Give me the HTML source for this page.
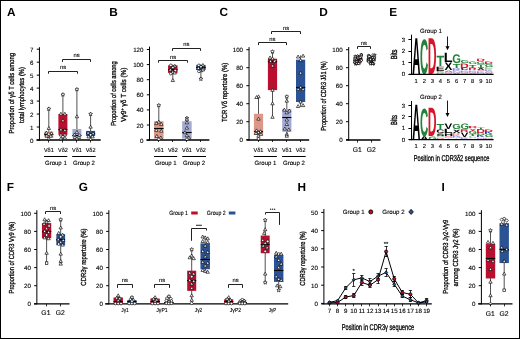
<!DOCTYPE html><html><head><meta charset="utf-8"><style>html,body{margin:0;padding:0;background:#fff;}svg{display:block;will-change:transform;text-rendering:geometricPrecision;}</style></head><body><svg width="520" height="339" viewBox="0 0 520 339" font-family='"Liberation Sans", sans-serif'>
<rect x="0" y="0" width="520" height="339" fill="#fff" stroke="none" stroke-width="0"/>
<text x="6.9" y="15.8" text-anchor="start" font-size="11.8" font-weight="bold" fill="#000">A</text>
<line x1="36.5" y1="140" x2="100.7" y2="140" stroke="#000" stroke-width="1.3"/>
<line x1="39.45" y1="47.2" x2="39.45" y2="140.6" stroke="#000" stroke-width="1"/>
<line x1="36.75" y1="140" x2="39.45" y2="140" stroke="#000" stroke-width="1"/>
<text x="33.45" y="142.5" text-anchor="end" font-size="6.2" font-weight="normal" fill="#000" stroke="#000" stroke-width="0.12">0</text>
<line x1="36.75" y1="127.03" x2="39.45" y2="127.03" stroke="#000" stroke-width="1"/>
<text x="33.45" y="129.53" text-anchor="end" font-size="6.2" font-weight="normal" fill="#000" stroke="#000" stroke-width="0.12">1</text>
<line x1="36.75" y1="114.06" x2="39.45" y2="114.06" stroke="#000" stroke-width="1"/>
<text x="33.45" y="116.56" text-anchor="end" font-size="6.2" font-weight="normal" fill="#000" stroke="#000" stroke-width="0.12">2</text>
<line x1="36.75" y1="101.09" x2="39.45" y2="101.09" stroke="#000" stroke-width="1"/>
<text x="33.45" y="103.59" text-anchor="end" font-size="6.2" font-weight="normal" fill="#000" stroke="#000" stroke-width="0.12">3</text>
<line x1="36.75" y1="88.12" x2="39.45" y2="88.12" stroke="#000" stroke-width="1"/>
<text x="33.45" y="90.62" text-anchor="end" font-size="6.2" font-weight="normal" fill="#000" stroke="#000" stroke-width="0.12">4</text>
<line x1="36.75" y1="75.15" x2="39.45" y2="75.15" stroke="#000" stroke-width="1"/>
<text x="33.45" y="77.65" text-anchor="end" font-size="6.2" font-weight="normal" fill="#000" stroke="#000" stroke-width="0.12">5</text>
<line x1="36.75" y1="62.18" x2="39.45" y2="62.18" stroke="#000" stroke-width="1"/>
<text x="33.45" y="64.68" text-anchor="end" font-size="6.2" font-weight="normal" fill="#000" stroke="#000" stroke-width="0.12">6</text>
<line x1="36.75" y1="49.21" x2="39.45" y2="49.21" stroke="#000" stroke-width="1"/>
<text x="33.45" y="51.71" text-anchor="end" font-size="6.2" font-weight="normal" fill="#000" stroke="#000" stroke-width="0.12">7</text>
<line x1="48.8" y1="108.87" x2="48.8" y2="140" stroke="#333" stroke-width="0.85"/>
<rect x="44.3" y="131.57" width="9" height="5.84" fill="#de9687" stroke="none" stroke-width="0"/>
<line x1="44.3" y1="134.5" x2="53.3" y2="134.5" stroke="#000" stroke-width="1.1"/>
<polygon points="48.8,106.87 49.36,108.1 50.7,108.25 49.71,109.17 49.98,110.49 48.8,109.83 47.62,110.49 47.89,109.17 46.9,108.25 48.24,108.1" fill="#fff" stroke="#000" stroke-width="0.65" stroke-linejoin="round"/>
<polygon points="48.8,126.49 50.48,129.45 47.12,129.45" fill="#fff" stroke="#000" stroke-width="0.65" stroke-linejoin="round"/>
<polygon points="46.3,131.03 47.98,133.99 44.62,133.99" fill="#fff" stroke="#000" stroke-width="0.65" stroke-linejoin="round"/>
<polygon points="51.3,131.67 52.98,134.63 49.62,134.63" fill="#fff" stroke="#000" stroke-width="0.65" stroke-linejoin="round"/>
<polygon points="46.8,134.11 47.36,135.33 48.7,135.49 47.71,136.41 47.98,137.73 46.8,137.07 45.62,137.73 45.89,136.41 44.9,135.49 46.24,135.33" fill="#fff" stroke="#000" stroke-width="0.65" stroke-linejoin="round"/>
<polygon points="50.8,134.27 52.48,137.23 49.12,137.23" fill="#fff" stroke="#000" stroke-width="0.65" stroke-linejoin="round"/>
<circle cx="48.8" cy="134.16" r="1.36" fill="#fff" stroke="#000" stroke-width="0.65"/>
<polygon points="48.8,136.86 50.48,139.82 47.12,139.82" fill="#fff" stroke="#000" stroke-width="0.65" stroke-linejoin="round"/>
<line x1="62.9" y1="94.6" x2="62.9" y2="139.35" stroke="#333" stroke-width="0.85"/>
<rect x="58.4" y="114.06" width="9" height="20.75" fill="#b90e2e" stroke="none" stroke-width="0"/>
<line x1="58.4" y1="129.5" x2="67.4" y2="129.5" stroke="#000" stroke-width="1.1"/>
<polygon points="62.9,92.6 63.46,93.83 64.8,93.99 63.81,94.9 64.08,96.22 62.9,95.56 61.72,96.22 61.99,94.9 61,93.99 62.34,93.83" fill="#fff" stroke="#000" stroke-width="0.65" stroke-linejoin="round"/>
<polygon points="60.9,112.22 62.58,115.18 59.22,115.18" fill="#fff" stroke="#000" stroke-width="0.65" stroke-linejoin="round"/>
<polygon points="64.9,112.22 66.58,115.18 63.22,115.18" fill="#fff" stroke="#000" stroke-width="0.65" stroke-linejoin="round"/>
<polygon points="62.9,118.7 64.58,121.67 61.22,121.67" fill="#fff" stroke="#000" stroke-width="0.65" stroke-linejoin="round"/>
<polygon points="60.9,127.78 62.58,130.74 59.22,130.74" fill="#fff" stroke="#000" stroke-width="0.65" stroke-linejoin="round"/>
<polygon points="64.9,128.43 66.58,131.39 63.22,131.39" fill="#fff" stroke="#000" stroke-width="0.65" stroke-linejoin="round"/>
<polygon points="60.9,132.97 62.58,135.93 59.22,135.93" fill="#fff" stroke="#000" stroke-width="0.65" stroke-linejoin="round"/>
<polygon points="64.9,132.97 66.58,135.93 63.22,135.93" fill="#fff" stroke="#000" stroke-width="0.65" stroke-linejoin="round"/>
<circle cx="62.9" cy="136.76" r="1.36" fill="#fff" stroke="#000" stroke-width="0.65"/>
<polygon points="60.9,136.86 62.58,139.82 59.22,139.82" fill="#fff" stroke="#000" stroke-width="0.65" stroke-linejoin="round"/>
<polygon points="64.9,136.21 66.58,139.17 63.22,139.17" fill="#fff" stroke="#000" stroke-width="0.65" stroke-linejoin="round"/>
<line x1="76.9" y1="89.42" x2="76.9" y2="140" stroke="#333" stroke-width="0.85"/>
<rect x="72.4" y="128.98" width="9" height="8.43" fill="#a2a9d3" stroke="none" stroke-width="0"/>
<line x1="72.4" y1="135.5" x2="81.4" y2="135.5" stroke="#000" stroke-width="1.1"/>
<polygon points="76.9,87.42 77.46,88.64 78.8,88.8 77.81,89.71 78.08,91.04 76.9,90.38 75.72,91.04 75.99,89.71 75,88.8 76.34,88.64" fill="#fff" stroke="#000" stroke-width="0.65" stroke-linejoin="round"/>
<polygon points="76.9,114.81 78.58,117.77 75.22,117.77" fill="#fff" stroke="#000" stroke-width="0.65" stroke-linejoin="round"/>
<polygon points="76.9,130.38 78.58,133.34 75.22,133.34" fill="#fff" stroke="#000" stroke-width="0.65" stroke-linejoin="round"/>
<polygon points="74.4,132.97 76.08,135.93 72.72,135.93" fill="#fff" stroke="#000" stroke-width="0.65" stroke-linejoin="round"/>
<circle cx="79.4" cy="135.46" r="1.36" fill="#fff" stroke="#000" stroke-width="0.65"/>
<polygon points="74.9,135.57 76.58,138.53 73.22,138.53" fill="#fff" stroke="#000" stroke-width="0.65" stroke-linejoin="round"/>
<polygon points="78.9,135.57 80.58,138.53 77.22,138.53" fill="#fff" stroke="#000" stroke-width="0.65" stroke-linejoin="round"/>
<polygon points="76.9,136.86 78.58,139.82 75.22,139.82" fill="#fff" stroke="#000" stroke-width="0.65" stroke-linejoin="round"/>
<line x1="90.6" y1="114.06" x2="90.6" y2="140" stroke="#333" stroke-width="0.85"/>
<rect x="86.1" y="130.92" width="9" height="5.19" fill="#2b5294" stroke="none" stroke-width="0"/>
<line x1="86.1" y1="133.5" x2="95.1" y2="133.5" stroke="#000" stroke-width="1.1"/>
<polygon points="90.6,112.06 91.16,113.28 92.5,113.44 91.51,114.36 91.78,115.68 90.6,115.02 89.42,115.68 89.69,114.36 88.7,113.44 90.04,113.28" fill="#fff" stroke="#000" stroke-width="0.65" stroke-linejoin="round"/>
<polygon points="90.6,125.19 92.28,128.15 88.92,128.15" fill="#fff" stroke="#000" stroke-width="0.65" stroke-linejoin="round"/>
<polygon points="88.1,131.03 89.78,133.99 86.42,133.99" fill="#fff" stroke="#000" stroke-width="0.65" stroke-linejoin="round"/>
<polygon points="93.1,131.67 94.78,134.63 91.42,134.63" fill="#fff" stroke="#000" stroke-width="0.65" stroke-linejoin="round"/>
<circle cx="90.6" cy="134.81" r="1.36" fill="#fff" stroke="#000" stroke-width="0.65"/>
<polygon points="88.6,134.92 90.28,137.88 86.92,137.88" fill="#fff" stroke="#000" stroke-width="0.65" stroke-linejoin="round"/>
<polygon points="92.6,134.92 94.28,137.88 90.92,137.88" fill="#fff" stroke="#000" stroke-width="0.65" stroke-linejoin="round"/>
<polygon points="90.6,137.51 92.28,140.47 88.92,140.47" fill="#fff" stroke="#000" stroke-width="0.65" stroke-linejoin="round"/>
<line x1="48.5" y1="140" x2="48.5" y2="142.6" stroke="#000" stroke-width="0.8"/>
<line x1="62.5" y1="140" x2="62.5" y2="142.6" stroke="#000" stroke-width="0.8"/>
<line x1="76.5" y1="140" x2="76.5" y2="142.6" stroke="#000" stroke-width="0.8"/>
<line x1="90.5" y1="140" x2="90.5" y2="142.6" stroke="#000" stroke-width="0.8"/>
<path d="M48.5,73.7 V71.5 H77.5 V73.7" fill="none" stroke="#222" stroke-width="1"/>
<text x="63" y="69" text-anchor="middle" font-size="5.8" font-weight="normal" fill="#000" stroke="#000" stroke-width="0.1">ns</text>
<path d="M62.5,61.9 V59.5 H90.5 V61.9" fill="none" stroke="#222" stroke-width="1"/>
<text x="76.5" y="57.4" text-anchor="middle" font-size="5.8" font-weight="normal" fill="#000" stroke="#000" stroke-width="0.1">ns</text>
<text x="48.8" y="151.9" text-anchor="middle" font-size="5.9" font-weight="normal" fill="#000" textLength="9.8" lengthAdjust="spacingAndGlyphs" stroke="#000" stroke-width="0.12">V&#948;1</text>
<text x="62.9" y="151.9" text-anchor="middle" font-size="5.9" font-weight="normal" fill="#000" textLength="9.8" lengthAdjust="spacingAndGlyphs" stroke="#000" stroke-width="0.12">V&#948;2</text>
<text x="76.9" y="151.9" text-anchor="middle" font-size="5.9" font-weight="normal" fill="#000" textLength="9.8" lengthAdjust="spacingAndGlyphs" stroke="#000" stroke-width="0.12">V&#948;1</text>
<text x="90.6" y="151.9" text-anchor="middle" font-size="5.9" font-weight="normal" fill="#000" textLength="9.8" lengthAdjust="spacingAndGlyphs" stroke="#000" stroke-width="0.12">V&#948;2</text>
<line x1="44.1" y1="156.5" x2="67.3" y2="156.5" stroke="#000" stroke-width="1"/>
<line x1="72.2" y1="156.5" x2="95.7" y2="156.5" stroke="#000" stroke-width="1"/>
<text x="55.85" y="164.7" text-anchor="middle" font-size="6.2" font-weight="normal" fill="#000" textLength="21.8" lengthAdjust="spacingAndGlyphs" stroke="#000" stroke-width="0.12">Group 1</text>
<text x="83.95" y="164.7" text-anchor="middle" font-size="6.2" font-weight="normal" fill="#000" textLength="22" lengthAdjust="spacingAndGlyphs" stroke="#000" stroke-width="0.12">Group 2</text>
<text transform="translate(13.9,93.2) rotate(-90)" text-anchor="middle" font-size="7.3" font-weight="normal" fill="#000" textLength="80.4" lengthAdjust="spacingAndGlyphs" stroke="#000" stroke-width="0.28">Proportion of &#947;&#948; T cells among</text>
<text transform="translate(24,95) rotate(-90)" text-anchor="middle" font-size="7.3" font-weight="normal" fill="#000" textLength="56" lengthAdjust="spacingAndGlyphs" stroke="#000" stroke-width="0.28">total lymphocytes (%)</text>
<text x="109.3" y="15.8" text-anchor="start" font-size="11.8" font-weight="bold" fill="#000">B</text>
<line x1="146.5" y1="140" x2="209.4" y2="140" stroke="#000" stroke-width="1.3"/>
<line x1="149.5" y1="46.6" x2="149.5" y2="140.6" stroke="#000" stroke-width="1"/>
<line x1="146.8" y1="140.1" x2="149.5" y2="140.1" stroke="#000" stroke-width="1"/>
<text x="143.5" y="142.6" text-anchor="end" font-size="6.2" font-weight="normal" fill="#000" stroke="#000" stroke-width="0.12">0</text>
<line x1="146.8" y1="125" x2="149.5" y2="125" stroke="#000" stroke-width="1"/>
<text x="143.5" y="127.5" text-anchor="end" font-size="6.2" font-weight="normal" fill="#000" stroke="#000" stroke-width="0.12">20</text>
<line x1="146.8" y1="109.9" x2="149.5" y2="109.9" stroke="#000" stroke-width="1"/>
<text x="143.5" y="112.4" text-anchor="end" font-size="6.2" font-weight="normal" fill="#000" stroke="#000" stroke-width="0.12">40</text>
<line x1="146.8" y1="94.8" x2="149.5" y2="94.8" stroke="#000" stroke-width="1"/>
<text x="143.5" y="97.3" text-anchor="end" font-size="6.2" font-weight="normal" fill="#000" stroke="#000" stroke-width="0.12">60</text>
<line x1="146.8" y1="79.7" x2="149.5" y2="79.7" stroke="#000" stroke-width="1"/>
<text x="143.5" y="82.2" text-anchor="end" font-size="6.2" font-weight="normal" fill="#000" stroke="#000" stroke-width="0.12">80</text>
<line x1="146.8" y1="64.6" x2="149.5" y2="64.6" stroke="#000" stroke-width="1"/>
<text x="143.5" y="67.1" text-anchor="end" font-size="6.2" font-weight="normal" fill="#000" stroke="#000" stroke-width="0.12">100</text>
<line x1="146.8" y1="49.5" x2="149.5" y2="49.5" stroke="#000" stroke-width="1"/>
<text x="143.5" y="52" text-anchor="end" font-size="6.2" font-weight="normal" fill="#000" stroke="#000" stroke-width="0.12">120</text>
<line x1="158.8" y1="105.37" x2="158.8" y2="139.34" stroke="#333" stroke-width="0.85"/>
<rect x="154.05" y="121.22" width="9.5" height="17.37" fill="#de9687" stroke="none" stroke-width="0"/>
<line x1="154.05" y1="128.5" x2="163.55" y2="128.5" stroke="#000" stroke-width="1.1"/>
<polygon points="158.8,103.37 159.36,104.59 160.7,104.75 159.71,105.67 159.98,106.99 158.8,106.33 157.62,106.99 157.89,105.67 156.9,104.75 158.24,104.59" fill="#fff" stroke="#000" stroke-width="0.65" stroke-linejoin="round"/>
<polygon points="158.8,120.14 160.48,123.1 157.12,123.1" fill="#fff" stroke="#000" stroke-width="0.65" stroke-linejoin="round"/>
<polygon points="156.3,121.65 157.98,124.61 154.62,124.61" fill="#fff" stroke="#000" stroke-width="0.65" stroke-linejoin="round"/>
<polygon points="161.3,122.4 162.98,125.36 159.62,125.36" fill="#fff" stroke="#000" stroke-width="0.65" stroke-linejoin="round"/>
<polygon points="156.3,128.44 157.98,131.41 154.62,131.41" fill="#fff" stroke="#000" stroke-width="0.65" stroke-linejoin="round"/>
<polygon points="161.3,129.2 162.98,132.16 159.62,132.16" fill="#fff" stroke="#000" stroke-width="0.65" stroke-linejoin="round"/>
<polygon points="156.8,134.48 158.48,137.44 155.12,137.44" fill="#fff" stroke="#000" stroke-width="0.65" stroke-linejoin="round"/>
<polygon points="160.8,136 162.48,138.96 159.12,138.96" fill="#fff" stroke="#000" stroke-width="0.65" stroke-linejoin="round"/>
<circle cx="158.8" cy="139.34" r="1.36" fill="#fff" stroke="#000" stroke-width="0.65"/>
<line x1="172.8" y1="64.6" x2="172.8" y2="81.21" stroke="#333" stroke-width="0.85"/>
<rect x="168.05" y="65.35" width="9.5" height="7.55" fill="#b90e2e" stroke="none" stroke-width="0"/>
<line x1="168.05" y1="69.5" x2="177.55" y2="69.5" stroke="#000" stroke-width="1.1"/>
<circle cx="170.8" cy="65.35" r="1.36" fill="#fff" stroke="#000" stroke-width="0.65"/>
<polygon points="174.8,64.27 176.48,67.23 173.12,67.23" fill="#fff" stroke="#000" stroke-width="0.65" stroke-linejoin="round"/>
<polygon points="172.8,65.62 173.36,66.84 174.7,67 173.71,67.92 173.98,69.24 172.8,68.58 171.62,69.24 171.89,67.92 170.9,67 172.24,66.84" fill="#fff" stroke="#000" stroke-width="0.65" stroke-linejoin="round"/>
<polygon points="170.3,68.04 171.98,71 168.62,71" fill="#fff" stroke="#000" stroke-width="0.65" stroke-linejoin="round"/>
<circle cx="175.3" cy="70.64" r="1.36" fill="#fff" stroke="#000" stroke-width="0.65"/>
<polygon points="172.8,70.31 174.48,73.27 171.12,73.27" fill="#fff" stroke="#000" stroke-width="0.65" stroke-linejoin="round"/>
<circle cx="170.8" cy="73.66" r="1.36" fill="#fff" stroke="#000" stroke-width="0.65"/>
<polygon points="174.8,71.06 176.48,74.02 173.12,74.02" fill="#fff" stroke="#000" stroke-width="0.65" stroke-linejoin="round"/>
<polygon points="172.8,78.61 174.48,81.57 171.12,81.57" fill="#fff" stroke="#000" stroke-width="0.65" stroke-linejoin="round"/>
<line x1="186.9" y1="118.2" x2="186.9" y2="139.34" stroke="#333" stroke-width="0.85"/>
<rect x="182.15" y="121.22" width="9.5" height="17.37" fill="#a2a9d3" stroke="none" stroke-width="0"/>
<line x1="182.15" y1="132.5" x2="191.65" y2="132.5" stroke="#000" stroke-width="1.1"/>
<polygon points="186.9,116.2 187.46,117.43 188.8,117.59 187.81,118.5 188.08,119.82 186.9,119.16 185.72,119.82 185.99,118.5 185,117.59 186.34,117.43" fill="#fff" stroke="#000" stroke-width="0.65" stroke-linejoin="round"/>
<polygon points="186.9,117.87 188.58,120.83 185.22,120.83" fill="#fff" stroke="#000" stroke-width="0.65" stroke-linejoin="round"/>
<polygon points="186.9,120.89 188.58,123.86 185.22,123.86" fill="#fff" stroke="#000" stroke-width="0.65" stroke-linejoin="round"/>
<polygon points="186.9,126.18 188.58,129.14 185.22,129.14" fill="#fff" stroke="#000" stroke-width="0.65" stroke-linejoin="round"/>
<polygon points="184.9,130.71 186.58,133.67 183.22,133.67" fill="#fff" stroke="#000" stroke-width="0.65" stroke-linejoin="round"/>
<polygon points="186.9,133.73 188.58,136.69 185.22,136.69" fill="#fff" stroke="#000" stroke-width="0.65" stroke-linejoin="round"/>
<polygon points="188.9,136 190.58,138.96 187.22,138.96" fill="#fff" stroke="#000" stroke-width="0.65" stroke-linejoin="round"/>
<circle cx="186.9" cy="139.34" r="1.36" fill="#fff" stroke="#000" stroke-width="0.65"/>
<line x1="200.9" y1="64.6" x2="200.9" y2="78.94" stroke="#333" stroke-width="0.85"/>
<rect x="196.15" y="64.9" width="9.5" height="4.98" fill="#2b5294" stroke="none" stroke-width="0"/>
<line x1="196.15" y1="67.5" x2="205.65" y2="67.5" stroke="#000" stroke-width="1.1"/>
<circle cx="198.9" cy="65.35" r="1.36" fill="#fff" stroke="#000" stroke-width="0.65"/>
<polygon points="202.9,63.51 204.58,66.47 201.22,66.47" fill="#fff" stroke="#000" stroke-width="0.65" stroke-linejoin="round"/>
<polygon points="200.9,64.86 201.46,66.09 202.8,66.25 201.81,67.16 202.08,68.48 200.9,67.82 199.72,68.48 199.99,67.16 199,66.25 200.34,66.09" fill="#fff" stroke="#000" stroke-width="0.65" stroke-linejoin="round"/>
<polygon points="198.4,66.53 200.08,69.5 196.72,69.5" fill="#fff" stroke="#000" stroke-width="0.65" stroke-linejoin="round"/>
<circle cx="203.4" cy="69.13" r="1.36" fill="#fff" stroke="#000" stroke-width="0.65"/>
<polygon points="200.9,68.8 202.58,71.76 199.22,71.76" fill="#fff" stroke="#000" stroke-width="0.65" stroke-linejoin="round"/>
<circle cx="198.9" cy="71.39" r="1.36" fill="#fff" stroke="#000" stroke-width="0.65"/>
<polygon points="202.9,68.04 204.58,71 201.22,71" fill="#fff" stroke="#000" stroke-width="0.65" stroke-linejoin="round"/>
<polygon points="200.9,76.94 201.46,78.17 202.8,78.33 201.81,79.24 202.08,80.56 200.9,79.9 199.72,80.56 199.99,79.24 199,78.33 200.34,78.17" fill="#fff" stroke="#000" stroke-width="0.65" stroke-linejoin="round"/>
<line x1="158.5" y1="140" x2="158.5" y2="142" stroke="#000" stroke-width="0.8"/>
<line x1="172.5" y1="140" x2="172.5" y2="142" stroke="#000" stroke-width="0.8"/>
<line x1="186.5" y1="140" x2="186.5" y2="142" stroke="#000" stroke-width="0.8"/>
<line x1="200.5" y1="140" x2="200.5" y2="142" stroke="#000" stroke-width="0.8"/>
<path d="M158.5,62.7 V60.5 H187.5 V62.7" fill="none" stroke="#222" stroke-width="1"/>
<text x="173.1" y="58.6" text-anchor="middle" font-size="5.8" font-weight="normal" fill="#000" stroke="#000" stroke-width="0.1">ns</text>
<path d="M172.5,50.9 V48.5 H200.5 V50.9" fill="none" stroke="#222" stroke-width="1"/>
<text x="186.35" y="46.1" text-anchor="middle" font-size="5.8" font-weight="normal" fill="#000" stroke="#000" stroke-width="0.1">ns</text>
<text x="158.8" y="151.9" text-anchor="middle" font-size="5.9" font-weight="normal" fill="#000" textLength="9.8" lengthAdjust="spacingAndGlyphs" stroke="#000" stroke-width="0.12">V&#948;1</text>
<text x="172.8" y="151.9" text-anchor="middle" font-size="5.9" font-weight="normal" fill="#000" textLength="9.8" lengthAdjust="spacingAndGlyphs" stroke="#000" stroke-width="0.12">V&#948;2</text>
<text x="186.9" y="151.9" text-anchor="middle" font-size="5.9" font-weight="normal" fill="#000" textLength="9.8" lengthAdjust="spacingAndGlyphs" stroke="#000" stroke-width="0.12">V&#948;1</text>
<text x="200.9" y="151.9" text-anchor="middle" font-size="5.9" font-weight="normal" fill="#000" textLength="9.8" lengthAdjust="spacingAndGlyphs" stroke="#000" stroke-width="0.12">V&#948;2</text>
<line x1="154.1" y1="156.5" x2="177.2" y2="156.5" stroke="#000" stroke-width="1"/>
<line x1="182.2" y1="156.5" x2="206" y2="156.5" stroke="#000" stroke-width="1"/>
<text x="165.8" y="164.7" text-anchor="middle" font-size="6.2" font-weight="normal" fill="#000" textLength="21.8" lengthAdjust="spacingAndGlyphs" stroke="#000" stroke-width="0.12">Group 1</text>
<text x="194.1" y="164.7" text-anchor="middle" font-size="6.2" font-weight="normal" fill="#000" textLength="22" lengthAdjust="spacingAndGlyphs" stroke="#000" stroke-width="0.12">Group 2</text>
<text transform="translate(116.4,93.55) rotate(-90)" text-anchor="middle" font-size="7.3" font-weight="normal" fill="#000" textLength="64.5" lengthAdjust="spacingAndGlyphs" stroke="#000" stroke-width="0.28">Proportion of cells among</text>
<text transform="translate(126.2,94.6) rotate(-90)" text-anchor="middle" font-size="7.3" font-weight="normal" fill="#000" textLength="54.2" lengthAdjust="spacingAndGlyphs" stroke="#000" stroke-width="0.28">V&#947;9<tspan font-size="4.5" dy="-2.2">+</tspan><tspan dy="2.2"> &#947;&#948; T cells (%)</tspan></text>
<text x="219.5" y="15.8" text-anchor="start" font-size="11.8" font-weight="bold" fill="#000">C</text>
<line x1="246.5" y1="140" x2="309.2" y2="140" stroke="#000" stroke-width="1.3"/>
<line x1="249.05" y1="47.1" x2="249.05" y2="140.6" stroke="#000" stroke-width="1"/>
<line x1="246.35" y1="139.7" x2="249.05" y2="139.7" stroke="#000" stroke-width="1"/>
<text x="243.05" y="142.2" text-anchor="end" font-size="6.2" font-weight="normal" fill="#000" stroke="#000" stroke-width="0.12">0</text>
<line x1="246.35" y1="121.7" x2="249.05" y2="121.7" stroke="#000" stroke-width="1"/>
<text x="243.05" y="124.2" text-anchor="end" font-size="6.2" font-weight="normal" fill="#000" stroke="#000" stroke-width="0.12">20</text>
<line x1="246.35" y1="103.7" x2="249.05" y2="103.7" stroke="#000" stroke-width="1"/>
<text x="243.05" y="106.2" text-anchor="end" font-size="6.2" font-weight="normal" fill="#000" stroke="#000" stroke-width="0.12">40</text>
<line x1="246.35" y1="85.7" x2="249.05" y2="85.7" stroke="#000" stroke-width="1"/>
<text x="243.05" y="88.2" text-anchor="end" font-size="6.2" font-weight="normal" fill="#000" stroke="#000" stroke-width="0.12">60</text>
<line x1="246.35" y1="67.7" x2="249.05" y2="67.7" stroke="#000" stroke-width="1"/>
<text x="243.05" y="70.2" text-anchor="end" font-size="6.2" font-weight="normal" fill="#000" stroke="#000" stroke-width="0.12">80</text>
<line x1="246.35" y1="49.7" x2="249.05" y2="49.7" stroke="#000" stroke-width="1"/>
<text x="243.05" y="52.2" text-anchor="end" font-size="6.2" font-weight="normal" fill="#000" stroke="#000" stroke-width="0.12">100</text>
<line x1="258.5" y1="96.68" x2="258.5" y2="139.25" stroke="#333" stroke-width="0.85"/>
<rect x="253.9" y="113.78" width="9.2" height="21.24" fill="#de9687" stroke="none" stroke-width="0"/>
<line x1="253.9" y1="131.5" x2="263.1" y2="131.5" stroke="#000" stroke-width="1.1"/>
<polygon points="258.5,94.84 260.18,97.8 256.82,97.8" fill="#fff" stroke="#000" stroke-width="0.65" stroke-linejoin="round"/>
<polygon points="256.5,95.56 258.18,98.52 254.82,98.52" fill="#fff" stroke="#000" stroke-width="0.65" stroke-linejoin="round"/>
<polygon points="258.5,117.16 260.18,120.12 256.82,120.12" fill="#fff" stroke="#000" stroke-width="0.65" stroke-linejoin="round"/>
<polygon points="256.5,128.86 258.18,131.82 254.82,131.82" fill="#fff" stroke="#000" stroke-width="0.65" stroke-linejoin="round"/>
<polygon points="260.5,129.76 262.18,132.72 258.82,132.72" fill="#fff" stroke="#000" stroke-width="0.65" stroke-linejoin="round"/>
<polygon points="258.5,130.66 260.18,133.62 256.82,133.62" fill="#fff" stroke="#000" stroke-width="0.65" stroke-linejoin="round"/>
<polygon points="256,131.56 257.68,134.52 254.32,134.52" fill="#fff" stroke="#000" stroke-width="0.65" stroke-linejoin="round"/>
<polygon points="261,132.46 262.68,135.42 259.32,135.42" fill="#fff" stroke="#000" stroke-width="0.65" stroke-linejoin="round"/>
<polygon points="258.5,134.26 260.18,137.22 256.82,137.22" fill="#fff" stroke="#000" stroke-width="0.65" stroke-linejoin="round"/>
<circle cx="258.5" cy="138.8" r="1.36" fill="#fff" stroke="#000" stroke-width="0.65"/>
<line x1="272.5" y1="51.68" x2="272.5" y2="117.38" stroke="#333" stroke-width="0.85"/>
<rect x="267.9" y="58.79" width="9.2" height="31.32" fill="#b90e2e" stroke="none" stroke-width="0"/>
<line x1="267.9" y1="61.5" x2="277.1" y2="61.5" stroke="#000" stroke-width="1.1"/>
<polygon points="272.5,49.68 273.06,50.9 274.4,51.06 273.41,51.98 273.68,53.3 272.5,52.64 271.32,53.3 271.59,51.98 270.6,51.06 271.94,50.9" fill="#fff" stroke="#000" stroke-width="0.65" stroke-linejoin="round"/>
<polygon points="270,55.96 271.68,58.92 268.32,58.92" fill="#fff" stroke="#000" stroke-width="0.65" stroke-linejoin="round"/>
<polygon points="272.5,56.86 274.18,59.82 270.82,59.82" fill="#fff" stroke="#000" stroke-width="0.65" stroke-linejoin="round"/>
<circle cx="275" cy="60.5" r="1.36" fill="#fff" stroke="#000" stroke-width="0.65"/>
<polygon points="270.5,59.56 272.18,62.52 268.82,62.52" fill="#fff" stroke="#000" stroke-width="0.65" stroke-linejoin="round"/>
<polygon points="274.5,59.56 276.18,62.52 272.82,62.52" fill="#fff" stroke="#000" stroke-width="0.65" stroke-linejoin="round"/>
<polygon points="272.5,64.06 274.18,67.02 270.82,67.02" fill="#fff" stroke="#000" stroke-width="0.65" stroke-linejoin="round"/>
<polygon points="272.5,88.36 274.18,91.32 270.82,91.32" fill="#fff" stroke="#000" stroke-width="0.65" stroke-linejoin="round"/>
<polygon points="272.5,101.86 274.18,104.82 270.82,104.82" fill="#fff" stroke="#000" stroke-width="0.65" stroke-linejoin="round"/>
<polygon points="272.5,115.36 274.18,118.32 270.82,118.32" fill="#fff" stroke="#000" stroke-width="0.65" stroke-linejoin="round"/>
<line x1="286.8" y1="96.68" x2="286.8" y2="136.64" stroke="#333" stroke-width="0.85"/>
<rect x="282.2" y="109.01" width="9.2" height="22.77" fill="#a2a9d3" stroke="none" stroke-width="0"/>
<line x1="282.2" y1="117.5" x2="291.4" y2="117.5" stroke="#000" stroke-width="1.1"/>
<polygon points="286.8,94.68 287.36,95.9 288.7,96.06 287.71,96.98 287.98,98.3 286.8,97.64 285.62,98.3 285.89,96.98 284.9,96.06 286.24,95.9" fill="#fff" stroke="#000" stroke-width="0.65" stroke-linejoin="round"/>
<polygon points="286.8,99.16 288.48,102.12 285.12,102.12" fill="#fff" stroke="#000" stroke-width="0.65" stroke-linejoin="round"/>
<polygon points="284.3,108.16 285.98,111.12 282.62,111.12" fill="#fff" stroke="#000" stroke-width="0.65" stroke-linejoin="round"/>
<polygon points="289.3,109.06 290.98,112.02 287.62,112.02" fill="#fff" stroke="#000" stroke-width="0.65" stroke-linejoin="round"/>
<polygon points="286.8,110.86 288.48,113.82 285.12,113.82" fill="#fff" stroke="#000" stroke-width="0.65" stroke-linejoin="round"/>
<polygon points="286.8,118.06 288.48,121.02 285.12,121.02" fill="#fff" stroke="#000" stroke-width="0.65" stroke-linejoin="round"/>
<polygon points="286.8,122.56 288.48,125.52 285.12,125.52" fill="#fff" stroke="#000" stroke-width="0.65" stroke-linejoin="round"/>
<polygon points="284.8,127.06 286.48,130.02 283.12,130.02" fill="#fff" stroke="#000" stroke-width="0.65" stroke-linejoin="round"/>
<polygon points="288.8,127.96 290.48,130.92 287.12,130.92" fill="#fff" stroke="#000" stroke-width="0.65" stroke-linejoin="round"/>
<polygon points="286.8,132.46 288.48,135.42 285.12,135.42" fill="#fff" stroke="#000" stroke-width="0.65" stroke-linejoin="round"/>
<polygon points="286.8,134.26 288.48,137.22 285.12,137.22" fill="#fff" stroke="#000" stroke-width="0.65" stroke-linejoin="round"/>
<line x1="300.6" y1="55.37" x2="300.6" y2="107.03" stroke="#333" stroke-width="0.85"/>
<rect x="296" y="59.69" width="9.2" height="42.3" fill="#2b5294" stroke="none" stroke-width="0"/>
<line x1="296" y1="87.5" x2="305.2" y2="87.5" stroke="#000" stroke-width="1.1"/>
<polygon points="298.1,55.06 299.78,58.02 296.42,58.02" fill="#fff" stroke="#000" stroke-width="0.65" stroke-linejoin="round"/>
<polygon points="303.1,54.16 304.78,57.12 301.42,57.12" fill="#fff" stroke="#000" stroke-width="0.65" stroke-linejoin="round"/>
<polygon points="300.6,58.66 302.28,61.62 298.92,61.62" fill="#fff" stroke="#000" stroke-width="0.65" stroke-linejoin="round"/>
<polygon points="300.6,71.26 302.28,74.22 298.92,74.22" fill="#fff" stroke="#000" stroke-width="0.65" stroke-linejoin="round"/>
<polygon points="300.6,85.66 302.28,88.62 298.92,88.62" fill="#fff" stroke="#000" stroke-width="0.65" stroke-linejoin="round"/>
<polygon points="298.1,87.46 299.78,90.42 296.42,90.42" fill="#fff" stroke="#000" stroke-width="0.65" stroke-linejoin="round"/>
<polygon points="303.1,87.46 304.78,90.42 301.42,90.42" fill="#fff" stroke="#000" stroke-width="0.65" stroke-linejoin="round"/>
<polygon points="300.6,100.06 302.28,103.02 298.92,103.02" fill="#fff" stroke="#000" stroke-width="0.65" stroke-linejoin="round"/>
<polygon points="298.1,104.56 299.78,107.52 296.42,107.52" fill="#fff" stroke="#000" stroke-width="0.65" stroke-linejoin="round"/>
<polygon points="303.1,103.66 304.78,106.62 301.42,106.62" fill="#fff" stroke="#000" stroke-width="0.65" stroke-linejoin="round"/>
<line x1="258.5" y1="140" x2="258.5" y2="142" stroke="#000" stroke-width="0.8"/>
<line x1="272.5" y1="140" x2="272.5" y2="142" stroke="#000" stroke-width="0.8"/>
<line x1="286.5" y1="140" x2="286.5" y2="142" stroke="#000" stroke-width="0.8"/>
<line x1="300.5" y1="140" x2="300.5" y2="142" stroke="#000" stroke-width="0.8"/>
<path d="M258.5,45.1 V42.5 H286.5 V45.1" fill="none" stroke="#222" stroke-width="1"/>
<text x="272.3" y="40.5" text-anchor="middle" font-size="5.8" font-weight="normal" fill="#000" stroke="#000" stroke-width="0.1">ns</text>
<path d="M271.5,34 V31.5 H300.5 V34" fill="none" stroke="#222" stroke-width="1"/>
<text x="286" y="29.8" text-anchor="middle" font-size="5.8" font-weight="normal" fill="#000" stroke="#000" stroke-width="0.1">ns</text>
<text x="258.5" y="151.9" text-anchor="middle" font-size="5.9" font-weight="normal" fill="#000" textLength="9.8" lengthAdjust="spacingAndGlyphs" stroke="#000" stroke-width="0.12">V&#948;1</text>
<text x="272.5" y="151.9" text-anchor="middle" font-size="5.9" font-weight="normal" fill="#000" textLength="9.8" lengthAdjust="spacingAndGlyphs" stroke="#000" stroke-width="0.12">V&#948;2</text>
<text x="286.8" y="151.9" text-anchor="middle" font-size="5.9" font-weight="normal" fill="#000" textLength="9.8" lengthAdjust="spacingAndGlyphs" stroke="#000" stroke-width="0.12">V&#948;1</text>
<text x="300.6" y="151.9" text-anchor="middle" font-size="5.9" font-weight="normal" fill="#000" textLength="9.8" lengthAdjust="spacingAndGlyphs" stroke="#000" stroke-width="0.12">V&#948;2</text>
<line x1="253.8" y1="156.5" x2="276.9" y2="156.5" stroke="#000" stroke-width="1"/>
<line x1="282.1" y1="156.5" x2="305.7" y2="156.5" stroke="#000" stroke-width="1"/>
<text x="265.5" y="164.7" text-anchor="middle" font-size="6.2" font-weight="normal" fill="#000" textLength="21.8" lengthAdjust="spacingAndGlyphs" stroke="#000" stroke-width="0.12">Group 1</text>
<text x="293.9" y="164.7" text-anchor="middle" font-size="6.2" font-weight="normal" fill="#000" textLength="22" lengthAdjust="spacingAndGlyphs" stroke="#000" stroke-width="0.12">Group 2</text>
<text transform="translate(227.1,92.4) rotate(-90)" text-anchor="middle" font-size="7.3" font-weight="normal" fill="#000" textLength="59.3" lengthAdjust="spacingAndGlyphs" stroke="#000" stroke-width="0.28">TCR V&#948; repertoire (%)</text>
<text x="319.2" y="15.8" text-anchor="start" font-size="11.8" font-weight="bold" fill="#000">D</text>
<line x1="346" y1="140" x2="380.5" y2="140" stroke="#000" stroke-width="1.3"/>
<line x1="348.7" y1="47" x2="348.7" y2="140.6" stroke="#000" stroke-width="1"/>
<line x1="346" y1="139.7" x2="348.7" y2="139.7" stroke="#000" stroke-width="1"/>
<text x="342.7" y="142.2" text-anchor="end" font-size="6.2" font-weight="normal" fill="#000" stroke="#000" stroke-width="0.12">0</text>
<line x1="346" y1="121.7" x2="348.7" y2="121.7" stroke="#000" stroke-width="1"/>
<text x="342.7" y="124.2" text-anchor="end" font-size="6.2" font-weight="normal" fill="#000" stroke="#000" stroke-width="0.12">20</text>
<line x1="346" y1="103.7" x2="348.7" y2="103.7" stroke="#000" stroke-width="1"/>
<text x="342.7" y="106.2" text-anchor="end" font-size="6.2" font-weight="normal" fill="#000" stroke="#000" stroke-width="0.12">40</text>
<line x1="346" y1="85.7" x2="348.7" y2="85.7" stroke="#000" stroke-width="1"/>
<text x="342.7" y="88.2" text-anchor="end" font-size="6.2" font-weight="normal" fill="#000" stroke="#000" stroke-width="0.12">60</text>
<line x1="346" y1="67.7" x2="348.7" y2="67.7" stroke="#000" stroke-width="1"/>
<text x="342.7" y="70.2" text-anchor="end" font-size="6.2" font-weight="normal" fill="#000" stroke="#000" stroke-width="0.12">80</text>
<line x1="346" y1="49.7" x2="348.7" y2="49.7" stroke="#000" stroke-width="1"/>
<text x="342.7" y="52.2" text-anchor="end" font-size="6.2" font-weight="normal" fill="#000" stroke="#000" stroke-width="0.12">100</text>
<rect x="353.6" y="57.35" width="8.8" height="4.05" fill="#b90e2e" stroke="none" stroke-width="0"/>
<circle cx="357.68" cy="58.81" r="1.1" fill="#fff" stroke="#000" stroke-width="0.75"/>
<polygon points="360.88,58.2 362.25,60.61 359.52,60.61" fill="#fff" stroke="#000" stroke-width="0.75" stroke-linejoin="round"/>
<polygon points="358.05,56.92 358.51,57.92 359.6,58.05 358.8,58.79 359.01,59.86 358.05,59.33 357.1,59.86 357.31,58.79 356.51,58.05 357.59,57.92" fill="#fff" stroke="#000" stroke-width="0.75" stroke-linejoin="round"/>
<polygon points="355.86,57.83 357.16,59.26 355.86,60.69 354.56,59.26" fill="#fff" stroke="#000" stroke-width="0.75"/>
<circle cx="358.88" cy="56.61" r="1.1" fill="#fff" stroke="#000" stroke-width="0.75"/>
<polygon points="355.24,59.74 356.61,62.14 353.88,62.14" fill="#fff" stroke="#000" stroke-width="0.75" stroke-linejoin="round"/>
<polygon points="355.22,54.82 355.68,55.82 356.76,55.95 355.96,56.69 356.17,57.76 355.22,57.23 354.26,57.76 354.47,56.69 353.67,55.95 354.76,55.82" fill="#fff" stroke="#000" stroke-width="0.75" stroke-linejoin="round"/>
<polygon points="359.32,62.27 360.62,63.7 359.32,65.13 358.02,63.7" fill="#fff" stroke="#000" stroke-width="0.75"/>
<circle cx="361.28" cy="54.98" r="1.1" fill="#fff" stroke="#000" stroke-width="0.75"/>
<polygon points="359.05,56.79 360.41,59.19 357.68,59.19" fill="#fff" stroke="#000" stroke-width="0.75" stroke-linejoin="round"/>
<polygon points="355.67,62.33 356.13,63.33 357.22,63.46 356.41,64.2 356.63,65.27 355.67,64.74 354.72,65.27 354.93,64.2 354.13,63.46 355.21,63.33" fill="#fff" stroke="#000" stroke-width="0.75" stroke-linejoin="round"/>
<polygon points="358.19,62.11 359.49,63.54 358.19,64.97 356.89,63.54" fill="#fff" stroke="#000" stroke-width="0.75"/>
<circle cx="355.89" cy="61.81" r="1.1" fill="#fff" stroke="#000" stroke-width="0.75"/>
<polygon points="354.8,58.22 356.17,60.63 353.44,60.63" fill="#fff" stroke="#000" stroke-width="0.75" stroke-linejoin="round"/>
<polygon points="357.6,54.51 358.05,55.51 359.14,55.64 358.34,56.38 358.55,57.45 357.6,56.92 356.64,57.45 356.85,56.38 356.05,55.64 357.14,55.51" fill="#fff" stroke="#000" stroke-width="0.75" stroke-linejoin="round"/>
<polygon points="358.13,56.62 359.43,58.05 358.13,59.48 356.83,58.05" fill="#fff" stroke="#000" stroke-width="0.75"/>
<circle cx="358" cy="57.84" r="1.1" fill="#fff" stroke="#000" stroke-width="0.75"/>
<polygon points="357.71,59.98 359.07,62.38 356.34,62.38" fill="#fff" stroke="#000" stroke-width="0.75" stroke-linejoin="round"/>
<polygon points="361.38,53.07 361.84,54.06 362.93,54.19 362.13,54.93 362.34,56.01 361.38,55.47 360.43,56.01 360.64,54.93 359.84,54.19 360.93,54.06" fill="#fff" stroke="#000" stroke-width="0.75" stroke-linejoin="round"/>
<polygon points="360.31,55.98 361.61,57.41 360.31,58.84 359.01,57.41" fill="#fff" stroke="#000" stroke-width="0.75"/>
<circle cx="356.74" cy="61.93" r="1.1" fill="#fff" stroke="#000" stroke-width="0.75"/>
<polygon points="356.57,61.94 357.93,64.35 355.2,64.35" fill="#fff" stroke="#000" stroke-width="0.75" stroke-linejoin="round"/>
<polygon points="359.81,58.69 360.27,59.69 361.36,59.81 360.55,60.56 360.77,61.63 359.81,61.1 358.86,61.63 359.07,60.56 358.27,59.81 359.35,59.69" fill="#fff" stroke="#000" stroke-width="0.75" stroke-linejoin="round"/>
<polygon points="360.36,59.02 361.66,60.45 360.36,61.88 359.06,60.45" fill="#fff" stroke="#000" stroke-width="0.75"/>
<circle cx="361.11" cy="56.09" r="1.1" fill="#fff" stroke="#000" stroke-width="0.75"/>
<polygon points="354.6,60.62 355.97,63.03 353.24,63.03" fill="#fff" stroke="#000" stroke-width="0.75" stroke-linejoin="round"/>
<polygon points="360.79,58.03 361.25,59.03 362.34,59.16 361.53,59.9 361.75,60.97 360.79,60.44 359.83,60.97 360.05,59.9 359.24,59.16 360.33,59.03" fill="#fff" stroke="#000" stroke-width="0.75" stroke-linejoin="round"/>
<polygon points="361.27,58.91 362.57,60.34 361.27,61.77 359.97,60.34" fill="#fff" stroke="#000" stroke-width="0.75"/>
<circle cx="355.1" cy="58.15" r="1.1" fill="#fff" stroke="#000" stroke-width="0.75"/>
<polygon points="359.89,60.06 361.26,62.46 358.53,62.46" fill="#fff" stroke="#000" stroke-width="0.75" stroke-linejoin="round"/>
<rect x="367" y="57.35" width="8.8" height="4.05" fill="#2b5294" stroke="none" stroke-width="0"/>
<circle cx="371.23" cy="57.89" r="1.1" fill="#fff" stroke="#000" stroke-width="0.75"/>
<polygon points="372.53,61.26 373.9,63.66 371.17,63.66" fill="#fff" stroke="#000" stroke-width="0.75" stroke-linejoin="round"/>
<polygon points="368.07,58.93 368.53,59.93 369.62,60.06 368.82,60.8 369.03,61.87 368.07,61.34 367.12,61.87 367.33,60.8 366.53,60.06 367.62,59.93" fill="#fff" stroke="#000" stroke-width="0.75" stroke-linejoin="round"/>
<polygon points="369.86,55.01 371.16,56.44 369.86,57.87 368.56,56.44" fill="#fff" stroke="#000" stroke-width="0.75"/>
<circle cx="372.7" cy="58.42" r="1.1" fill="#fff" stroke="#000" stroke-width="0.75"/>
<polygon points="371.8,56.36 373.16,58.76 370.43,58.76" fill="#fff" stroke="#000" stroke-width="0.75" stroke-linejoin="round"/>
<polygon points="368.99,58.32 369.45,59.31 370.53,59.44 369.73,60.18 369.94,61.26 368.99,60.72 368.03,61.26 368.25,60.18 367.44,59.44 368.53,59.31" fill="#fff" stroke="#000" stroke-width="0.75" stroke-linejoin="round"/>
<polygon points="369.1,54.11 370.4,55.54 369.1,56.97 367.8,55.54" fill="#fff" stroke="#000" stroke-width="0.75"/>
<circle cx="368.4" cy="56.36" r="1.1" fill="#fff" stroke="#000" stroke-width="0.75"/>
<polygon points="368.51,56.11 369.87,58.52 367.14,58.52" fill="#fff" stroke="#000" stroke-width="0.75" stroke-linejoin="round"/>
<polygon points="370.29,58.65 370.75,59.65 371.84,59.77 371.03,60.52 371.25,61.59 370.29,61.06 369.34,61.59 369.55,60.52 368.75,59.77 369.83,59.65" fill="#fff" stroke="#000" stroke-width="0.75" stroke-linejoin="round"/>
<polygon points="373.73,62.49 375.03,63.92 373.73,65.35 372.43,63.92" fill="#fff" stroke="#000" stroke-width="0.75"/>
<circle cx="368.41" cy="55.45" r="1.1" fill="#fff" stroke="#000" stroke-width="0.75"/>
<polygon points="371.46,61.75 372.83,64.15 370.1,64.15" fill="#fff" stroke="#000" stroke-width="0.75" stroke-linejoin="round"/>
<polygon points="374.71,53.53 375.17,54.52 376.26,54.65 375.45,55.39 375.67,56.47 374.71,55.93 373.76,56.47 373.97,55.39 373.17,54.65 374.25,54.52" fill="#fff" stroke="#000" stroke-width="0.75" stroke-linejoin="round"/>
<polygon points="368.77,58.67 370.07,60.1 368.77,61.53 367.47,60.1" fill="#fff" stroke="#000" stroke-width="0.75"/>
<circle cx="368.92" cy="61.15" r="1.1" fill="#fff" stroke="#000" stroke-width="0.75"/>
<polygon points="372.23,61.06 373.59,63.46 370.86,63.46" fill="#fff" stroke="#000" stroke-width="0.75" stroke-linejoin="round"/>
<polygon points="372.74,61.99 373.2,62.98 374.28,63.11 373.48,63.86 373.69,64.93 372.74,64.39 371.78,64.93 372,63.86 371.19,63.11 372.28,62.98" fill="#fff" stroke="#000" stroke-width="0.75" stroke-linejoin="round"/>
<polygon points="369.16,54.96 370.46,56.39 369.16,57.82 367.86,56.39" fill="#fff" stroke="#000" stroke-width="0.75"/>
<circle cx="370.72" cy="60.14" r="1.1" fill="#fff" stroke="#000" stroke-width="0.75"/>
<polygon points="372.05,58.1 373.42,60.5 370.69,60.5" fill="#fff" stroke="#000" stroke-width="0.75" stroke-linejoin="round"/>
<polygon points="370.62,62.19 371.07,63.18 372.16,63.31 371.36,64.05 371.57,65.13 370.62,64.59 369.66,65.13 369.87,64.05 369.07,63.31 370.16,63.18" fill="#fff" stroke="#000" stroke-width="0.75" stroke-linejoin="round"/>
<polygon points="372.94,53.53 374.24,54.96 372.94,56.39 371.64,54.96" fill="#fff" stroke="#000" stroke-width="0.75"/>
<circle cx="374.64" cy="57.83" r="1.1" fill="#fff" stroke="#000" stroke-width="0.75"/>
<polygon points="370.42,59.17 371.79,61.58 369.06,61.58" fill="#fff" stroke="#000" stroke-width="0.75" stroke-linejoin="round"/>
<polygon points="372.69,56.11 373.15,57.1 374.24,57.23 373.43,57.97 373.65,59.05 372.69,58.51 371.74,59.05 371.95,57.97 371.15,57.23 372.23,57.1" fill="#fff" stroke="#000" stroke-width="0.75" stroke-linejoin="round"/>
<polygon points="368.77,60.45 370.07,61.88 368.77,63.31 367.47,61.88" fill="#fff" stroke="#000" stroke-width="0.75"/>
<circle cx="370.47" cy="59.27" r="1.1" fill="#fff" stroke="#000" stroke-width="0.75"/>
<polygon points="373.51,57.88 374.87,60.28 372.14,60.28" fill="#fff" stroke="#000" stroke-width="0.75" stroke-linejoin="round"/>
<line x1="357.5" y1="140" x2="357.5" y2="142.6" stroke="#000" stroke-width="0.8"/>
<line x1="371.5" y1="140" x2="371.5" y2="142.6" stroke="#000" stroke-width="0.8"/>
<path d="M357.5,48.9 V46.5 H370.5 V48.9" fill="none" stroke="#222" stroke-width="1"/>
<text x="363.9" y="44.5" text-anchor="middle" font-size="5.8" font-weight="normal" fill="#000" stroke="#000" stroke-width="0.1">ns</text>
<text x="357.3" y="151.8" text-anchor="middle" font-size="6.8" font-weight="normal" fill="#000" stroke="#000" stroke-width="0.12">G1</text>
<text x="371.2" y="151.8" text-anchor="middle" font-size="6.8" font-weight="normal" fill="#000" stroke="#000" stroke-width="0.12">G2</text>
<text transform="translate(325.8,95.95) rotate(-90)" text-anchor="middle" font-size="7.3" font-weight="normal" fill="#000" textLength="69.5" lengthAdjust="spacingAndGlyphs" stroke="#000" stroke-width="0.28">Proportion of CDR3 J&#948;1 (%)</text>
<text x="389.2" y="15.8" text-anchor="start" font-size="11.8" font-weight="bold" fill="#000">E</text>
<line x1="411.5" y1="34.7" x2="411.5" y2="74.8" stroke="#000" stroke-width="1"/>
<line x1="408.4" y1="74.5" x2="411.5" y2="74.5" stroke="#000" stroke-width="1"/>
<text x="403.3" y="76.4" text-anchor="middle" font-size="6" font-weight="normal" fill="#000" stroke="#000" stroke-width="0.12">0</text>
<line x1="408.4" y1="62.5" x2="411.5" y2="62.5" stroke="#000" stroke-width="1"/>
<text x="403.3" y="64.9" text-anchor="middle" font-size="6" font-weight="normal" fill="#000" stroke="#000" stroke-width="0.12">1</text>
<line x1="408.4" y1="51.5" x2="411.5" y2="51.5" stroke="#000" stroke-width="1"/>
<text x="403.3" y="53.4" text-anchor="middle" font-size="6" font-weight="normal" fill="#000" stroke="#000" stroke-width="0.12">2</text>
<line x1="408.4" y1="39.5" x2="411.5" y2="39.5" stroke="#000" stroke-width="1"/>
<text x="403.3" y="41.9" text-anchor="middle" font-size="6" font-weight="normal" fill="#000" stroke="#000" stroke-width="0.12">3</text>
<text x="416.2" y="82.6" text-anchor="middle" font-size="5.8" font-weight="normal" fill="#000" stroke="#000" stroke-width="0.12">1</text>
<text transform="translate(412.17,74.3) scale(0.1119,0.5188)" font-size="100" font-weight="bold" fill="#000">A</text>
<text x="424.27" y="82.6" text-anchor="middle" font-size="5.8" font-weight="normal" fill="#000" stroke="#000" stroke-width="0.12">2</text>
<text transform="translate(420.06,73.8) scale(0.1145,0.4986)" font-size="100" font-weight="bold" fill="#23823a">C</text>
<text x="432.34" y="82.6" text-anchor="middle" font-size="5.8" font-weight="normal" fill="#000" stroke="#000" stroke-width="0.12">3</text>
<text transform="translate(427.8,74.3) scale(0.1220,0.5188)" font-size="100" font-weight="bold" fill="#d8142a">D</text>
<text x="440.41" y="82.6" text-anchor="middle" font-size="5.8" font-weight="normal" fill="#000" stroke="#000" stroke-width="0.12">4</text>
<text transform="translate(435.89,74.3) scale(0.1181,0.0174)" font-size="100" font-weight="bold" fill="#e88a90">R</text>
<text transform="translate(436.22,73.08) scale(0.1111,0.0183)" font-size="100" font-weight="bold" fill="#8cc08e">G</text>
<text transform="translate(435.9,71.8) scale(0.1163,0.0188)" font-size="100" font-weight="bold" fill="#8a8fe0">K</text>
<text transform="translate(435.8,70.5) scale(0.1327,0.0638)" font-size="100" font-weight="bold" fill="#000">E</text>
<text transform="translate(436.53,66.1) scale(0.1271,0.1493)" font-size="100" font-weight="bold" fill="#23823a">T</text>
<text x="448.48" y="82.6" text-anchor="middle" font-size="5.8" font-weight="normal" fill="#000" stroke="#000" stroke-width="0.12">5</text>
<text transform="translate(444.36,74.28) scale(0.1250,0.0183)" font-size="100" font-weight="bold" fill="#e88a90">S</text>
<text transform="translate(443.9,73) scale(0.1271,0.0217)" font-size="100" font-weight="bold" fill="#c49acb">N</text>
<text transform="translate(444.45,71.5) scale(0.1119,0.0217)" font-size="100" font-weight="bold" fill="#888">A</text>
<text transform="translate(444.61,70) scale(0.1163,0.1101)" font-size="100" font-weight="bold" fill="#000">X</text>
<text transform="translate(443.78,62.4) scale(0.1456,0.1333)" font-size="100" font-weight="bold" fill="#000">L</text>
<text x="456.55" y="82.6" text-anchor="middle" font-size="5.8" font-weight="normal" fill="#000" stroke="#000" stroke-width="0.12">6</text>
<text transform="translate(452.52,74.3) scale(0.1119,0.0188)" font-size="100" font-weight="bold" fill="#888">A</text>
<text transform="translate(451.97,73) scale(0.1271,0.0246)" font-size="100" font-weight="bold" fill="#c49acb">N</text>
<text transform="translate(452.04,71.3) scale(0.1163,0.0261)" font-size="100" font-weight="bold" fill="#8a8fe0">K</text>
<text transform="translate(452.03,69.5) scale(0.1181,0.0290)" font-size="100" font-weight="bold" fill="#8a8fe0">R</text>
<text transform="translate(452.67,67.5) scale(0.1271,0.0565)" font-size="100" font-weight="bold" fill="#23823a">T</text>
<text transform="translate(452.36,63.47) scale(0.1111,0.1254)" font-size="100" font-weight="bold" fill="#23823a">G</text>
<text x="464.62" y="82.6" text-anchor="middle" font-size="5.8" font-weight="normal" fill="#000" stroke="#000" stroke-width="0.12">7</text>
<text transform="translate(460.5,74.28) scale(0.1250,0.0183)" font-size="100" font-weight="bold" fill="#e88a90">S</text>
<text transform="translate(460.04,73) scale(0.1271,0.0217)" font-size="100" font-weight="bold" fill="#c49acb">N</text>
<text transform="translate(460.11,71.5) scale(0.1163,0.0217)" font-size="100" font-weight="bold" fill="#8a8fe0">K</text>
<text transform="translate(460.41,69.96) scale(0.1145,0.0352)" font-size="100" font-weight="bold" fill="#000">C</text>
<text transform="translate(460.08,67.5) scale(0.1220,0.0652)" font-size="100" font-weight="bold" fill="#d8142a">D</text>
<text transform="translate(460.43,62.95) scale(0.1111,0.0451)" font-size="100" font-weight="bold" fill="#23823a">G</text>
<text x="472.69" y="82.6" text-anchor="middle" font-size="5.8" font-weight="normal" fill="#000" stroke="#000" stroke-width="0.12">8</text>
<text transform="translate(468.66,74.3) scale(0.1119,0.0188)" font-size="100" font-weight="bold" fill="#888">A</text>
<text transform="translate(468.11,73) scale(0.1271,0.0217)" font-size="100" font-weight="bold" fill="#c49acb">N</text>
<text transform="translate(468.18,71.5) scale(0.1163,0.0217)" font-size="100" font-weight="bold" fill="#8a8fe0">K</text>
<text transform="translate(468.17,70) scale(0.1181,0.0362)" font-size="100" font-weight="bold" fill="#d8142a">R</text>
<text transform="translate(468.81,67.5) scale(0.1271,0.0435)" font-size="100" font-weight="bold" fill="#23823a">T</text>
<text transform="translate(468.5,64.46) scale(0.1111,0.0366)" font-size="100" font-weight="bold" fill="#23823a">G</text>
<text x="480.76" y="82.6" text-anchor="middle" font-size="5.8" font-weight="normal" fill="#000" stroke="#000" stroke-width="0.12">9</text>
<text transform="translate(476.18,74.3) scale(0.1271,0.0188)" font-size="100" font-weight="bold" fill="#c49acb">N</text>
<text transform="translate(476.25,73) scale(0.1163,0.0261)" font-size="100" font-weight="bold" fill="#8a8fe0">K</text>
<text transform="translate(476.63,71.18) scale(0.1250,0.0169)" font-size="100" font-weight="bold" fill="#e88a90">S</text>
<text transform="translate(476.89,70) scale(0.1163,0.0362)" font-size="100" font-weight="bold" fill="#000">X</text>
<text transform="translate(476.88,67.5) scale(0.1271,0.0507)" font-size="100" font-weight="bold" fill="#23823a">T</text>
<text transform="translate(476.57,63.96) scale(0.1111,0.0380)" font-size="100" font-weight="bold" fill="#23823a">G</text>
<text transform="translate(476.22,61.3) scale(0.1220,0.0333)" font-size="100" font-weight="bold" fill="#d8142a">D</text>
<text x="488.83" y="82.6" text-anchor="middle" font-size="5.8" font-weight="normal" fill="#000" stroke="#000" stroke-width="0.12">10</text>
<text transform="translate(484.8,74.3) scale(0.1119,0.0188)" font-size="100" font-weight="bold" fill="#888">A</text>
<text transform="translate(484.25,73) scale(0.1271,0.0145)" font-size="100" font-weight="bold" fill="#c49acb">N</text>
<text transform="translate(484.7,71.98) scale(0.1250,0.0169)" font-size="100" font-weight="bold" fill="#8cc08e">S</text>
<text transform="translate(484.32,70.8) scale(0.1163,0.0261)" font-size="100" font-weight="bold" fill="#8a8fe0">K</text>
<text transform="translate(484.22,69) scale(0.1327,0.0246)" font-size="100" font-weight="bold" fill="#8cc08e">E</text>
<text transform="translate(484.64,67.26) scale(0.1111,0.0437)" font-size="100" font-weight="bold" fill="#23823a">G</text>
<text transform="translate(484.29,64.2) scale(0.1220,0.0348)" font-size="100" font-weight="bold" fill="#d8142a">D</text>
<line x1="409" y1="74.3" x2="493.6" y2="74.3" stroke="#000" stroke-width="1.2"/>
<text transform="translate(396.9,54.41) rotate(-90)" text-anchor="middle" font-size="8.8" font-weight="normal" fill="#000" textLength="9.8" lengthAdjust="spacingAndGlyphs" stroke="#000" stroke-width="0.35">Bits</text>
<text x="431" y="33.4" text-anchor="middle" font-size="6.2" font-weight="normal" fill="#000" textLength="22" lengthAdjust="spacingAndGlyphs" stroke="#000" stroke-width="0.12">Group 1</text>
<line x1="447.5" y1="36.5" x2="447.5" y2="47.2" stroke="#000" stroke-width="0.9"/>
<polygon points="445.5,46.2 449.5,46.2 447.5,50.2" fill="#000"/>
<line x1="411.5" y1="101" x2="411.5" y2="140.2" stroke="#000" stroke-width="1"/>
<line x1="408.4" y1="139.5" x2="411.5" y2="139.5" stroke="#000" stroke-width="1"/>
<text x="403.3" y="141.8" text-anchor="middle" font-size="6" font-weight="normal" fill="#000" stroke="#000" stroke-width="0.12">0</text>
<line x1="408.4" y1="128.5" x2="411.5" y2="128.5" stroke="#000" stroke-width="1"/>
<text x="403.3" y="130.43" text-anchor="middle" font-size="6" font-weight="normal" fill="#000" stroke="#000" stroke-width="0.12">1</text>
<line x1="408.4" y1="116.5" x2="411.5" y2="116.5" stroke="#000" stroke-width="1"/>
<text x="403.3" y="119.06" text-anchor="middle" font-size="6" font-weight="normal" fill="#000" stroke="#000" stroke-width="0.12">2</text>
<line x1="408.4" y1="105.5" x2="411.5" y2="105.5" stroke="#000" stroke-width="1"/>
<text x="403.3" y="107.69" text-anchor="middle" font-size="6" font-weight="normal" fill="#000" stroke="#000" stroke-width="0.12">3</text>
<text x="416.2" y="148" text-anchor="middle" font-size="5.8" font-weight="normal" fill="#000" stroke="#000" stroke-width="0.12">1</text>
<text transform="translate(412.17,139.7) scale(0.1119,0.5130)" font-size="100" font-weight="bold" fill="#000">A</text>
<text x="424.27" y="148" text-anchor="middle" font-size="5.8" font-weight="normal" fill="#000" stroke="#000" stroke-width="0.12">2</text>
<text transform="translate(420.24,139.7) scale(0.1119,0.0536)" font-size="100" font-weight="bold" fill="#000">A</text>
<text transform="translate(420.06,135.61) scale(0.1145,0.3944)" font-size="100" font-weight="bold" fill="#23823a">C</text>
<text x="432.34" y="148" text-anchor="middle" font-size="5.8" font-weight="normal" fill="#000" stroke="#000" stroke-width="0.12">3</text>
<text transform="translate(428.15,139.65) scale(0.1111,0.0493)" font-size="100" font-weight="bold" fill="#23823a">G</text>
<text transform="translate(427.8,136.2) scale(0.1220,0.4087)" font-size="100" font-weight="bold" fill="#d8142a">D</text>
<text x="440.41" y="148" text-anchor="middle" font-size="5.8" font-weight="normal" fill="#000" stroke="#000" stroke-width="0.12">4</text>
<text transform="translate(435.83,139.7) scale(0.1271,0.0174)" font-size="100" font-weight="bold" fill="#8a8fe0">N</text>
<text transform="translate(435.89,138.5) scale(0.1181,0.0188)" font-size="100" font-weight="bold" fill="#e88a90">R</text>
<text transform="translate(436.22,137.18) scale(0.1111,0.0211)" font-size="100" font-weight="bold" fill="#8cc08e">G</text>
<text transform="translate(436.28,135.66) scale(0.1250,0.0352)" font-size="100" font-weight="bold" fill="#000">S</text>
<text transform="translate(436.2,133.15) scale(0.1145,0.0521)" font-size="100" font-weight="bold" fill="#000">C</text>
<text transform="translate(436.53,129.5) scale(0.1271,0.0855)" font-size="100" font-weight="bold" fill="#23823a">T</text>
<text x="448.48" y="148" text-anchor="middle" font-size="5.8" font-weight="normal" fill="#000" stroke="#000" stroke-width="0.12">5</text>
<text transform="translate(444.45,139.7) scale(0.1119,0.0188)" font-size="100" font-weight="bold" fill="#888">A</text>
<text transform="translate(443.9,138.4) scale(0.1271,0.0174)" font-size="100" font-weight="bold" fill="#c49acb">N</text>
<text transform="translate(444.36,137.18) scale(0.1250,0.0183)" font-size="100" font-weight="bold" fill="#e88a90">S</text>
<text transform="translate(443.9,135.9) scale(0.1271,0.0406)" font-size="100" font-weight="bold" fill="#000">H</text>
<text transform="translate(443.78,133.1) scale(0.1456,0.0638)" font-size="100" font-weight="bold" fill="#000">L</text>
<text transform="translate(444.61,128.7) scale(0.1154,0.0797)" font-size="100" font-weight="bold" fill="#000">V</text>
<text x="456.55" y="148" text-anchor="middle" font-size="5.8" font-weight="normal" fill="#000" stroke="#000" stroke-width="0.12">6</text>
<text transform="translate(452.52,139.7) scale(0.1119,0.0188)" font-size="100" font-weight="bold" fill="#888">A</text>
<text transform="translate(451.97,138.4) scale(0.1271,0.0217)" font-size="100" font-weight="bold" fill="#c49acb">N</text>
<text transform="translate(452.04,136.9) scale(0.1163,0.0290)" font-size="100" font-weight="bold" fill="#8a8fe0">K</text>
<text transform="translate(452.03,134.9) scale(0.1181,0.0290)" font-size="100" font-weight="bold" fill="#e88a90">R</text>
<text transform="translate(452.68,132.9) scale(0.1163,0.0493)" font-size="100" font-weight="bold" fill="#000">X</text>
<text transform="translate(452.36,129.43) scale(0.1111,0.0732)" font-size="100" font-weight="bold" fill="#23823a">G</text>
<text x="464.62" y="148" text-anchor="middle" font-size="5.8" font-weight="normal" fill="#000" stroke="#000" stroke-width="0.12">7</text>
<text transform="translate(460.04,139.7) scale(0.1271,0.0174)" font-size="100" font-weight="bold" fill="#c49acb">N</text>
<text transform="translate(460.11,138.5) scale(0.1163,0.0261)" font-size="100" font-weight="bold" fill="#8a8fe0">K</text>
<text transform="translate(460.75,136.7) scale(0.1154,0.0652)" font-size="100" font-weight="bold" fill="#000">V</text>
<text transform="translate(460.1,132.2) scale(0.1181,0.0406)" font-size="100" font-weight="bold" fill="#d8142a">R</text>
<text transform="translate(460.43,129.32) scale(0.1111,0.0803)" font-size="100" font-weight="bold" fill="#23823a">G</text>
<text x="472.69" y="148" text-anchor="middle" font-size="5.8" font-weight="normal" fill="#000" stroke="#000" stroke-width="0.12">8</text>
<text transform="translate(468.11,139.7) scale(0.1271,0.0174)" font-size="100" font-weight="bold" fill="#c49acb">N</text>
<text transform="translate(468.48,138.46) scale(0.1145,0.0352)" font-size="100" font-weight="bold" fill="#8cc08e">C</text>
<text transform="translate(468.81,136) scale(0.1271,0.0290)" font-size="100" font-weight="bold" fill="#23823a">T</text>
<text transform="translate(468.5,133.95) scale(0.1111,0.0493)" font-size="100" font-weight="bold" fill="#23823a">G</text>
<text transform="translate(468.7,130.5) scale(0.1190,0.0333)" font-size="100" font-weight="bold" fill="#d8142a">Y</text>
<text transform="translate(468.15,128.2) scale(0.1220,0.0304)" font-size="100" font-weight="bold" fill="#d8142a">D</text>
<text x="480.76" y="148" text-anchor="middle" font-size="5.8" font-weight="normal" fill="#000" stroke="#000" stroke-width="0.12">9</text>
<text transform="translate(476.73,139.7) scale(0.1119,0.0174)" font-size="100" font-weight="bold" fill="#888">A</text>
<text transform="translate(476.18,138.5) scale(0.1271,0.0188)" font-size="100" font-weight="bold" fill="#c49acb">N</text>
<text transform="translate(476.25,137.2) scale(0.1163,0.0319)" font-size="100" font-weight="bold" fill="#2233bb">K</text>
<text transform="translate(476.57,134.96) scale(0.1111,0.0352)" font-size="100" font-weight="bold" fill="#23823a">G</text>
<text transform="translate(476.22,132.5) scale(0.1220,0.0565)" font-size="100" font-weight="bold" fill="#d8142a">D</text>
<text transform="translate(476.88,128.6) scale(0.1271,0.0232)" font-size="100" font-weight="bold" fill="#23823a">T</text>
<text x="488.83" y="148" text-anchor="middle" font-size="5.8" font-weight="normal" fill="#000" stroke="#000" stroke-width="0.12">10</text>
<text transform="translate(484.8,139.7) scale(0.1119,0.0174)" font-size="100" font-weight="bold" fill="#888">A</text>
<text transform="translate(484.25,138.5) scale(0.1271,0.0188)" font-size="100" font-weight="bold" fill="#c49acb">N</text>
<text transform="translate(484.64,137.16) scale(0.1111,0.0423)" font-size="100" font-weight="bold" fill="#23823a">G</text>
<text transform="translate(484.32,134.2) scale(0.1163,0.0362)" font-size="100" font-weight="bold" fill="#2233bb">K</text>
<text transform="translate(484.29,131.7) scale(0.1220,0.0348)" font-size="100" font-weight="bold" fill="#d8142a">D</text>
<line x1="409" y1="139.7" x2="493.6" y2="139.7" stroke="#000" stroke-width="1.2"/>
<text transform="translate(396.9,120.03) rotate(-90)" text-anchor="middle" font-size="8.8" font-weight="normal" fill="#000" textLength="9.8" lengthAdjust="spacingAndGlyphs" stroke="#000" stroke-width="0.35">Bits</text>
<text x="431" y="99.2" text-anchor="middle" font-size="6.2" font-weight="normal" fill="#000" textLength="22" lengthAdjust="spacingAndGlyphs" stroke="#000" stroke-width="0.12">Group 2</text>
<line x1="447.5" y1="100.6" x2="447.5" y2="114" stroke="#000" stroke-width="0.9"/>
<polygon points="445.5,113 449.5,113 447.5,117" fill="#000"/>
<text x="451.6" y="160.7" text-anchor="middle" font-size="8.4" font-weight="normal" fill="#000" textLength="75.6" lengthAdjust="spacingAndGlyphs" stroke="#000" stroke-width="0.3">Position in CDR3&#948;2 sequence</text>
<text x="6.8" y="191.1" text-anchor="start" font-size="11.8" font-weight="bold" fill="#000">F</text>
<line x1="34" y1="303.8" x2="69.5" y2="303.8" stroke="#000" stroke-width="1.3"/>
<line x1="36.85" y1="210.2" x2="36.85" y2="304.4" stroke="#000" stroke-width="1"/>
<line x1="34.15" y1="303.8" x2="36.85" y2="303.8" stroke="#000" stroke-width="1"/>
<text x="30.85" y="306.3" text-anchor="end" font-size="6.2" font-weight="normal" fill="#000" stroke="#000" stroke-width="0.12">0</text>
<line x1="34.15" y1="285.7" x2="36.85" y2="285.7" stroke="#000" stroke-width="1"/>
<text x="30.85" y="288.2" text-anchor="end" font-size="6.2" font-weight="normal" fill="#000" stroke="#000" stroke-width="0.12">20</text>
<line x1="34.15" y1="267.6" x2="36.85" y2="267.6" stroke="#000" stroke-width="1"/>
<text x="30.85" y="270.1" text-anchor="end" font-size="6.2" font-weight="normal" fill="#000" stroke="#000" stroke-width="0.12">40</text>
<line x1="34.15" y1="249.5" x2="36.85" y2="249.5" stroke="#000" stroke-width="1"/>
<text x="30.85" y="252" text-anchor="end" font-size="6.2" font-weight="normal" fill="#000" stroke="#000" stroke-width="0.12">60</text>
<line x1="34.15" y1="231.4" x2="36.85" y2="231.4" stroke="#000" stroke-width="1"/>
<text x="30.85" y="233.9" text-anchor="end" font-size="6.2" font-weight="normal" fill="#000" stroke="#000" stroke-width="0.12">80</text>
<line x1="34.15" y1="213.3" x2="36.85" y2="213.3" stroke="#000" stroke-width="1"/>
<text x="30.85" y="215.8" text-anchor="end" font-size="6.2" font-weight="normal" fill="#000" stroke="#000" stroke-width="0.12">100</text>
<line x1="46.6" y1="219.63" x2="46.6" y2="263.26" stroke="#333" stroke-width="0.85"/>
<rect x="41.95" y="223.07" width="9.3" height="15.11" fill="#b90e2e" stroke="none" stroke-width="0"/>
<line x1="41.95" y1="231.5" x2="51.25" y2="231.5" stroke="#000" stroke-width="1.1"/>
<polygon points="44.6,217.79 46.28,220.75 42.92,220.75" fill="#fff" stroke="#000" stroke-width="0.65" stroke-linejoin="round"/>
<polygon points="48.6,218.7 50.28,221.66 46.92,221.66" fill="#fff" stroke="#000" stroke-width="0.65" stroke-linejoin="round"/>
<polygon points="46.6,220.35 47.16,221.57 48.5,221.73 47.51,222.65 47.78,223.97 46.6,223.31 45.42,223.97 45.69,222.65 44.7,221.73 46.04,221.57" fill="#fff" stroke="#000" stroke-width="0.65" stroke-linejoin="round"/>
<polygon points="44.1,222.32 45.78,225.28 42.42,225.28" fill="#fff" stroke="#000" stroke-width="0.65" stroke-linejoin="round"/>
<circle cx="49.1" cy="225.97" r="1.36" fill="#fff" stroke="#000" stroke-width="0.65"/>
<polygon points="46.6,226.84 48.28,229.81 44.92,229.81" fill="#fff" stroke="#000" stroke-width="0.65" stroke-linejoin="round"/>
<polygon points="44.6,229.56 46.28,232.52 42.92,232.52" fill="#fff" stroke="#000" stroke-width="0.65" stroke-linejoin="round"/>
<polygon points="48.6,230.47 50.28,233.43 46.92,233.43" fill="#fff" stroke="#000" stroke-width="0.65" stroke-linejoin="round"/>
<circle cx="46.6" cy="235.02" r="1.36" fill="#fff" stroke="#000" stroke-width="0.65"/>
<polygon points="44.6,235.9 46.28,238.86 42.92,238.86" fill="#fff" stroke="#000" stroke-width="0.65" stroke-linejoin="round"/>
<polygon points="48.6,236.8 50.28,239.76 46.92,239.76" fill="#fff" stroke="#000" stroke-width="0.65" stroke-linejoin="round"/>
<polygon points="46.6,251.28 48.28,254.24 44.92,254.24" fill="#fff" stroke="#000" stroke-width="0.65" stroke-linejoin="round"/>
<rect x="45.32" y="261.8" width="2.56" height="2.56" fill="#fff" stroke="#000" stroke-width="0.65"/>
<line x1="60.7" y1="219.63" x2="60.7" y2="264.52" stroke="#333" stroke-width="0.85"/>
<rect x="56.3" y="234.12" width="8.8" height="11.04" fill="#2b5294" stroke="none" stroke-width="0"/>
<line x1="56.3" y1="239.5" x2="65.1" y2="239.5" stroke="#000" stroke-width="1.1"/>
<polygon points="60.7,217.63 61.26,218.86 62.6,219.02 61.61,219.93 61.88,221.25 60.7,220.59 59.52,221.25 59.79,219.93 58.8,219.02 60.14,218.86" fill="#fff" stroke="#000" stroke-width="0.65" stroke-linejoin="round"/>
<polygon points="60.7,225.94 62.38,228.9 59.02,228.9" fill="#fff" stroke="#000" stroke-width="0.65" stroke-linejoin="round"/>
<polygon points="58.7,231.37 60.38,234.33 57.02,234.33" fill="#fff" stroke="#000" stroke-width="0.65" stroke-linejoin="round"/>
<polygon points="62.7,233.18 64.38,236.14 61.02,236.14" fill="#fff" stroke="#000" stroke-width="0.65" stroke-linejoin="round"/>
<circle cx="60.7" cy="236.83" r="1.36" fill="#fff" stroke="#000" stroke-width="0.65"/>
<polygon points="58.2,237.71 59.88,240.67 56.52,240.67" fill="#fff" stroke="#000" stroke-width="0.65" stroke-linejoin="round"/>
<polygon points="63.2,238.61 64.88,241.57 61.52,241.57" fill="#fff" stroke="#000" stroke-width="0.65" stroke-linejoin="round"/>
<polygon points="60.7,240.42 62.38,243.38 59.02,243.38" fill="#fff" stroke="#000" stroke-width="0.65" stroke-linejoin="round"/>
<circle cx="58.7" cy="244.07" r="1.36" fill="#fff" stroke="#000" stroke-width="0.65"/>
<polygon points="62.7,243.14 64.38,246.1 61.02,246.1" fill="#fff" stroke="#000" stroke-width="0.65" stroke-linejoin="round"/>
<polygon points="60.7,252.19 62.38,255.15 59.02,255.15" fill="#fff" stroke="#000" stroke-width="0.65" stroke-linejoin="round"/>
<polygon points="60.7,259.43 62.38,262.38 59.02,262.38" fill="#fff" stroke="#000" stroke-width="0.65" stroke-linejoin="round"/>
<polygon points="60.7,262.14 62.38,265.1 59.02,265.1" fill="#fff" stroke="#000" stroke-width="0.65" stroke-linejoin="round"/>
<line x1="46.5" y1="303.8" x2="46.5" y2="306.4" stroke="#000" stroke-width="0.8"/>
<line x1="60.5" y1="303.8" x2="60.5" y2="306.4" stroke="#000" stroke-width="0.8"/>
<path d="M45.5,214 V211.5 H60.5 V214" fill="none" stroke="#222" stroke-width="1"/>
<text x="53.1" y="209.5" text-anchor="middle" font-size="5.8" font-weight="normal" fill="#000" stroke="#000" stroke-width="0.1">ns</text>
<text x="45.9" y="315.4" text-anchor="middle" font-size="6.8" font-weight="normal" fill="#000" stroke="#000" stroke-width="0.12">G1</text>
<text x="60.2" y="315.4" text-anchor="middle" font-size="6.8" font-weight="normal" fill="#000" stroke="#000" stroke-width="0.12">G2</text>
<text transform="translate(14.2,257.6) rotate(-90)" text-anchor="middle" font-size="7.3" font-weight="normal" fill="#000" textLength="71.6" lengthAdjust="spacingAndGlyphs" stroke="#000" stroke-width="0.28">Proportion of CDR3 V&#947;9 (%)</text>
<text x="78.7" y="191.2" text-anchor="start" font-size="11.8" font-weight="bold" fill="#000">G</text>
<line x1="105" y1="303.8" x2="288.2" y2="303.8" stroke="#000" stroke-width="1.3"/>
<line x1="108.85" y1="210.2" x2="108.85" y2="304.4" stroke="#000" stroke-width="1"/>
<line x1="106.15" y1="303.8" x2="108.85" y2="303.8" stroke="#000" stroke-width="1"/>
<text x="102.85" y="306.3" text-anchor="end" font-size="6.2" font-weight="normal" fill="#000" stroke="#000" stroke-width="0.12">0</text>
<line x1="106.15" y1="285.7" x2="108.85" y2="285.7" stroke="#000" stroke-width="1"/>
<text x="102.85" y="288.2" text-anchor="end" font-size="6.2" font-weight="normal" fill="#000" stroke="#000" stroke-width="0.12">20</text>
<line x1="106.15" y1="267.6" x2="108.85" y2="267.6" stroke="#000" stroke-width="1"/>
<text x="102.85" y="270.1" text-anchor="end" font-size="6.2" font-weight="normal" fill="#000" stroke="#000" stroke-width="0.12">40</text>
<line x1="106.15" y1="249.5" x2="108.85" y2="249.5" stroke="#000" stroke-width="1"/>
<text x="102.85" y="252" text-anchor="end" font-size="6.2" font-weight="normal" fill="#000" stroke="#000" stroke-width="0.12">60</text>
<line x1="106.15" y1="231.4" x2="108.85" y2="231.4" stroke="#000" stroke-width="1"/>
<text x="102.85" y="233.9" text-anchor="end" font-size="6.2" font-weight="normal" fill="#000" stroke="#000" stroke-width="0.12">80</text>
<line x1="106.15" y1="213.3" x2="108.85" y2="213.3" stroke="#000" stroke-width="1"/>
<text x="102.85" y="215.8" text-anchor="end" font-size="6.2" font-weight="normal" fill="#000" stroke="#000" stroke-width="0.12">100</text>
<line x1="118.2" y1="295.66" x2="118.2" y2="303.8" stroke="#333" stroke-width="0.85"/>
<rect x="113.5" y="297.47" width="9.4" height="6.33" fill="#b90e2e" stroke="none" stroke-width="0"/>
<line x1="113.5" y1="301.5" x2="122.9" y2="301.5" stroke="#000" stroke-width="1.1"/>
<polygon points="118.2,293.82 119.88,296.78 116.52,296.78" fill="#fff" stroke="#000" stroke-width="0.65" stroke-linejoin="round"/>
<polygon points="116.7,296.26 118.38,299.22 115.02,299.22" fill="#fff" stroke="#000" stroke-width="0.65" stroke-linejoin="round"/>
<polygon points="119.7,296.91 120.26,298.14 121.6,298.29 120.61,299.21 120.88,300.53 119.7,299.87 118.52,300.53 118.79,299.21 117.8,298.29 119.14,298.14" fill="#fff" stroke="#000" stroke-width="0.65" stroke-linejoin="round"/>
<polygon points="118.2,298.7 119.88,301.66 116.52,301.66" fill="#fff" stroke="#000" stroke-width="0.65" stroke-linejoin="round"/>
<circle cx="115.4" cy="303.53" r="1.36" fill="#fff" stroke="#000" stroke-width="0.65"/>
<circle cx="118.2" cy="303.53" r="1.36" fill="#fff" stroke="#000" stroke-width="0.65"/>
<circle cx="121" cy="303.53" r="1.36" fill="#fff" stroke="#000" stroke-width="0.65"/>
<line x1="131.9" y1="297.47" x2="131.9" y2="303.8" stroke="#333" stroke-width="0.85"/>
<rect x="127.25" y="300.18" width="9.3" height="3.62" fill="#2b5294" stroke="none" stroke-width="0"/>
<line x1="127.25" y1="301.5" x2="136.55" y2="301.5" stroke="#000" stroke-width="1.1"/>
<polygon points="131.9,295.47 132.46,296.69 133.8,296.85 132.81,297.76 133.08,299.08 131.9,298.43 130.72,299.08 130.99,297.76 130,296.85 131.34,296.69" fill="#fff" stroke="#000" stroke-width="0.65" stroke-linejoin="round"/>
<polygon points="130.4,297.53 132.08,300.49 128.72,300.49" fill="#fff" stroke="#000" stroke-width="0.65" stroke-linejoin="round"/>
<polygon points="133.4,298.16 135.08,301.12 131.72,301.12" fill="#fff" stroke="#000" stroke-width="0.65" stroke-linejoin="round"/>
<polygon points="131.9,299.51 133.5,301.27 131.9,303.03 130.3,301.27" fill="#fff" stroke="#000" stroke-width="0.65"/>
<circle cx="129.1" cy="303.53" r="1.36" fill="#fff" stroke="#000" stroke-width="0.65"/>
<circle cx="131.9" cy="303.53" r="1.36" fill="#fff" stroke="#000" stroke-width="0.65"/>
<circle cx="134.7" cy="303.53" r="1.36" fill="#fff" stroke="#000" stroke-width="0.65"/>
<line x1="155.1" y1="297.47" x2="155.1" y2="303.8" stroke="#333" stroke-width="0.85"/>
<rect x="150.4" y="298.55" width="9.4" height="5.25" fill="#b90e2e" stroke="none" stroke-width="0"/>
<line x1="150.4" y1="301.5" x2="159.8" y2="301.5" stroke="#000" stroke-width="1.1"/>
<polygon points="155.1,295.63 156.78,298.59 153.42,298.59" fill="#fff" stroke="#000" stroke-width="0.65" stroke-linejoin="round"/>
<polygon points="153.6,297.37 154.16,298.59 155.5,298.75 154.51,299.66 154.78,300.98 153.6,300.33 152.42,300.98 152.69,299.66 151.7,298.75 153.04,298.59" fill="#fff" stroke="#000" stroke-width="0.65" stroke-linejoin="round"/>
<polygon points="156.6,298.16 158.28,301.12 154.92,301.12" fill="#fff" stroke="#000" stroke-width="0.65" stroke-linejoin="round"/>
<polygon points="155.1,299.43 156.78,302.39 153.42,302.39" fill="#fff" stroke="#000" stroke-width="0.65" stroke-linejoin="round"/>
<circle cx="152.3" cy="303.53" r="1.36" fill="#fff" stroke="#000" stroke-width="0.65"/>
<circle cx="155.1" cy="303.53" r="1.36" fill="#fff" stroke="#000" stroke-width="0.65"/>
<circle cx="157.9" cy="303.53" r="1.36" fill="#fff" stroke="#000" stroke-width="0.65"/>
<line x1="168.9" y1="296.56" x2="168.9" y2="303.8" stroke="#333" stroke-width="0.85"/>
<rect x="164.25" y="301.99" width="9.3" height="1.81" fill="#2b5294" stroke="none" stroke-width="0"/>
<line x1="164.25" y1="302.5" x2="173.55" y2="302.5" stroke="#000" stroke-width="1.1"/>
<polygon points="168.9,294.56 169.46,295.78 170.8,295.94 169.81,296.86 170.08,298.18 168.9,297.52 167.72,298.18 167.99,296.86 167,295.94 168.34,295.78" fill="#fff" stroke="#000" stroke-width="0.65" stroke-linejoin="round"/>
<circle cx="166.9" cy="298.37" r="1.36" fill="#fff" stroke="#000" stroke-width="0.65"/>
<polygon points="170.9,297.06 172.5,298.82 170.9,300.58 169.3,298.82" fill="#fff" stroke="#000" stroke-width="0.65"/>
<circle cx="166.4" cy="300.63" r="1.36" fill="#fff" stroke="#000" stroke-width="0.65"/>
<polygon points="171.4,299.33 173,301.09 171.4,302.85 169.8,301.09" fill="#fff" stroke="#000" stroke-width="0.65"/>
<polygon points="168.9,299.99 169.46,301.21 170.8,301.37 169.81,302.29 170.08,303.61 168.9,302.95 167.72,303.61 167.99,302.29 167,301.37 168.34,301.21" fill="#fff" stroke="#000" stroke-width="0.65" stroke-linejoin="round"/>
<circle cx="166.4" cy="303.35" r="1.36" fill="#fff" stroke="#000" stroke-width="0.65"/>
<circle cx="168.9" cy="303.53" r="1.36" fill="#fff" stroke="#000" stroke-width="0.65"/>
<circle cx="171.4" cy="303.35" r="1.36" fill="#fff" stroke="#000" stroke-width="0.65"/>
<line x1="191.7" y1="249.5" x2="191.7" y2="303.8" stroke="#333" stroke-width="0.85"/>
<rect x="187.2" y="270.68" width="9" height="20.18" fill="#b90e2e" stroke="none" stroke-width="0"/>
<line x1="187.2" y1="280.5" x2="196.2" y2="280.5" stroke="#000" stroke-width="1.1"/>
<polygon points="191.7,247.5 192.26,248.72 193.6,248.88 192.61,249.8 192.88,251.12 191.7,250.46 190.52,251.12 190.79,249.8 189.8,248.88 191.14,248.72" fill="#fff" stroke="#000" stroke-width="0.65" stroke-linejoin="round"/>
<polygon points="191.7,254 193.38,256.95 190.02,256.95" fill="#fff" stroke="#000" stroke-width="0.65" stroke-linejoin="round"/>
<polygon points="189.7,255.8 191.38,258.76 188.02,258.76" fill="#fff" stroke="#000" stroke-width="0.65" stroke-linejoin="round"/>
<polygon points="193.7,256.71 195.38,259.67 192.02,259.67" fill="#fff" stroke="#000" stroke-width="0.65" stroke-linejoin="round"/>
<polygon points="189.7,271.19 191.38,274.15 188.02,274.15" fill="#fff" stroke="#000" stroke-width="0.65" stroke-linejoin="round"/>
<polygon points="193.7,272.1 195.38,275.06 192.02,275.06" fill="#fff" stroke="#000" stroke-width="0.65" stroke-linejoin="round"/>
<circle cx="191.7" cy="276.65" r="1.36" fill="#fff" stroke="#000" stroke-width="0.65"/>
<polygon points="189.7,278.43 191.38,281.39 188.02,281.39" fill="#fff" stroke="#000" stroke-width="0.65" stroke-linejoin="round"/>
<polygon points="193.7,279.34 195.38,282.3 192.02,282.3" fill="#fff" stroke="#000" stroke-width="0.65" stroke-linejoin="round"/>
<polygon points="191.7,282.05 193.38,285.01 190.02,285.01" fill="#fff" stroke="#000" stroke-width="0.65" stroke-linejoin="round"/>
<polygon points="191.7,286.58 193.38,289.54 190.02,289.54" fill="#fff" stroke="#000" stroke-width="0.65" stroke-linejoin="round"/>
<polygon points="191.7,293.82 193.38,296.78 190.02,296.78" fill="#fff" stroke="#000" stroke-width="0.65" stroke-linejoin="round"/>
<polygon points="191.7,298.34 193.38,301.3 190.02,301.3" fill="#fff" stroke="#000" stroke-width="0.65" stroke-linejoin="round"/>
<polygon points="191.7,301.59 193.3,303.35 191.7,305.11 190.1,303.35" fill="#fff" stroke="#000" stroke-width="0.65"/>
<line x1="205.2" y1="236.2" x2="205.2" y2="272.49" stroke="#333" stroke-width="0.85"/>
<rect x="200.45" y="243.35" width="9.5" height="25.88" fill="#2b5294" stroke="none" stroke-width="0"/>
<line x1="200.45" y1="259.5" x2="209.95" y2="259.5" stroke="#000" stroke-width="1.1"/>
<polygon points="202.7,234.99 204.38,237.95 201.02,237.95" fill="#fff" stroke="#000" stroke-width="0.65" stroke-linejoin="round"/>
<polygon points="205.2,235.9 206.88,238.86 203.52,238.86" fill="#fff" stroke="#000" stroke-width="0.65" stroke-linejoin="round"/>
<polygon points="207.7,236.8 209.38,239.76 206.02,239.76" fill="#fff" stroke="#000" stroke-width="0.65" stroke-linejoin="round"/>
<polygon points="202.7,239.52 204.38,242.48 201.02,242.48" fill="#fff" stroke="#000" stroke-width="0.65" stroke-linejoin="round"/>
<polygon points="207.7,240.42 209.38,243.38 206.02,243.38" fill="#fff" stroke="#000" stroke-width="0.65" stroke-linejoin="round"/>
<polygon points="205.2,244.04 206.88,247 203.52,247" fill="#fff" stroke="#000" stroke-width="0.65" stroke-linejoin="round"/>
<polygon points="202.7,249.47 204.38,252.43 201.02,252.43" fill="#fff" stroke="#000" stroke-width="0.65" stroke-linejoin="round"/>
<polygon points="207.7,250.38 209.38,253.34 206.02,253.34" fill="#fff" stroke="#000" stroke-width="0.65" stroke-linejoin="round"/>
<polygon points="205.2,254.9 206.88,257.86 203.52,257.86" fill="#fff" stroke="#000" stroke-width="0.65" stroke-linejoin="round"/>
<polygon points="202.7,260.33 204.38,263.29 201.02,263.29" fill="#fff" stroke="#000" stroke-width="0.65" stroke-linejoin="round"/>
<polygon points="207.7,261.24 209.38,264.19 206.02,264.19" fill="#fff" stroke="#000" stroke-width="0.65" stroke-linejoin="round"/>
<polygon points="205.2,263.95 206.88,266.91 203.52,266.91" fill="#fff" stroke="#000" stroke-width="0.65" stroke-linejoin="round"/>
<polygon points="202.7,268.48 204.38,271.44 201.02,271.44" fill="#fff" stroke="#000" stroke-width="0.65" stroke-linejoin="round"/>
<polygon points="205.2,269.38 206.88,272.34 203.52,272.34" fill="#fff" stroke="#000" stroke-width="0.65" stroke-linejoin="round"/>
<polygon points="207.7,270.29 209.38,273.25 206.02,273.25" fill="#fff" stroke="#000" stroke-width="0.65" stroke-linejoin="round"/>
<line x1="228.7" y1="297.47" x2="228.7" y2="303.8" stroke="#333" stroke-width="0.85"/>
<rect x="224.15" y="299.28" width="9.1" height="4.52" fill="#b90e2e" stroke="none" stroke-width="0"/>
<line x1="224.15" y1="301.5" x2="233.25" y2="301.5" stroke="#000" stroke-width="1.1"/>
<polygon points="228.7,295.63 230.38,298.59 227.02,298.59" fill="#fff" stroke="#000" stroke-width="0.65" stroke-linejoin="round"/>
<polygon points="227.2,297.37 227.76,298.59 229.1,298.75 228.11,299.66 228.38,300.98 227.2,300.33 226.02,300.98 226.29,299.66 225.3,298.75 226.64,298.59" fill="#fff" stroke="#000" stroke-width="0.65" stroke-linejoin="round"/>
<polygon points="230.2,298.16 231.88,301.12 228.52,301.12" fill="#fff" stroke="#000" stroke-width="0.65" stroke-linejoin="round"/>
<polygon points="228.7,299.43 230.38,302.39 227.02,302.39" fill="#fff" stroke="#000" stroke-width="0.65" stroke-linejoin="round"/>
<circle cx="225.9" cy="303.53" r="1.36" fill="#fff" stroke="#000" stroke-width="0.65"/>
<circle cx="228.7" cy="303.53" r="1.36" fill="#fff" stroke="#000" stroke-width="0.65"/>
<circle cx="231.5" cy="303.53" r="1.36" fill="#fff" stroke="#000" stroke-width="0.65"/>
<line x1="242.3" y1="300.18" x2="242.3" y2="303.8" stroke="#333" stroke-width="0.85"/>
<rect x="237.8" y="301.99" width="9" height="1.81" fill="#2b5294" stroke="none" stroke-width="0"/>
<line x1="237.8" y1="302.5" x2="246.8" y2="302.5" stroke="#000" stroke-width="1.1"/>
<circle cx="242.3" cy="299.73" r="1.36" fill="#fff" stroke="#000" stroke-width="0.65"/>
<polygon points="240.3,299.33 241.9,301.09 240.3,302.85 238.7,301.09" fill="#fff" stroke="#000" stroke-width="0.65"/>
<polygon points="244.3,299.09 244.86,300.31 246.2,300.47 245.21,301.38 245.48,302.7 244.3,302.05 243.12,302.7 243.39,301.38 242.4,300.47 243.74,300.31" fill="#fff" stroke="#000" stroke-width="0.65" stroke-linejoin="round"/>
<circle cx="239.8" cy="302.44" r="1.36" fill="#fff" stroke="#000" stroke-width="0.65"/>
<polygon points="244.8,300.95 246.4,302.71 244.8,304.47 243.2,302.71" fill="#fff" stroke="#000" stroke-width="0.65"/>
<polygon points="242.3,300.44 242.86,301.67 244.2,301.82 243.21,302.74 243.48,304.06 242.3,303.4 241.12,304.06 241.39,302.74 240.4,301.82 241.74,301.67" fill="#fff" stroke="#000" stroke-width="0.65" stroke-linejoin="round"/>
<circle cx="239.8" cy="303.53" r="1.36" fill="#fff" stroke="#000" stroke-width="0.65"/>
<circle cx="242.3" cy="303.53" r="1.36" fill="#fff" stroke="#000" stroke-width="0.65"/>
<circle cx="244.8" cy="303.53" r="1.36" fill="#fff" stroke="#000" stroke-width="0.65"/>
<line x1="265.2" y1="220.09" x2="265.2" y2="282.53" stroke="#333" stroke-width="0.85"/>
<rect x="260.75" y="235.56" width="8.9" height="17.65" fill="#b90e2e" stroke="none" stroke-width="0"/>
<line x1="260.75" y1="244.5" x2="269.65" y2="244.5" stroke="#000" stroke-width="1.1"/>
<polygon points="265.2,218.09 265.76,219.31 267.1,219.47 266.11,220.38 266.38,221.71 265.2,221.05 264.02,221.71 264.29,220.38 263.3,219.47 264.64,219.31" fill="#fff" stroke="#000" stroke-width="0.65" stroke-linejoin="round"/>
<polygon points="265.2,227.75 266.88,230.71 263.52,230.71" fill="#fff" stroke="#000" stroke-width="0.65" stroke-linejoin="round"/>
<polygon points="264.2,231.37 265.88,234.33 262.52,234.33" fill="#fff" stroke="#000" stroke-width="0.65" stroke-linejoin="round"/>
<polygon points="262.7,238.61 264.38,241.57 261.02,241.57" fill="#fff" stroke="#000" stroke-width="0.65" stroke-linejoin="round"/>
<circle cx="267.7" cy="241.36" r="1.36" fill="#fff" stroke="#000" stroke-width="0.65"/>
<polygon points="265.2,241.33 266.88,244.29 263.52,244.29" fill="#fff" stroke="#000" stroke-width="0.65" stroke-linejoin="round"/>
<polygon points="263.2,244.04 264.88,247 261.52,247" fill="#fff" stroke="#000" stroke-width="0.65" stroke-linejoin="round"/>
<polygon points="267.2,245.85 268.88,248.81 265.52,248.81" fill="#fff" stroke="#000" stroke-width="0.65" stroke-linejoin="round"/>
<circle cx="265.2" cy="251.31" r="1.36" fill="#fff" stroke="#000" stroke-width="0.65"/>
<polygon points="265.2,272.1 266.88,275.06 263.52,275.06" fill="#fff" stroke="#000" stroke-width="0.65" stroke-linejoin="round"/>
<polygon points="265.2,280.53 265.76,281.76 267.1,281.91 266.11,282.83 266.38,284.15 265.2,283.49 264.02,284.15 264.29,282.83 263.3,281.91 264.64,281.76" fill="#fff" stroke="#000" stroke-width="0.65" stroke-linejoin="round"/>
<line x1="278.7" y1="253.12" x2="278.7" y2="290.23" stroke="#333" stroke-width="0.85"/>
<rect x="274" y="254.93" width="9.4" height="26.97" fill="#2b5294" stroke="none" stroke-width="0"/>
<line x1="274" y1="270.5" x2="283.4" y2="270.5" stroke="#000" stroke-width="1.1"/>
<polygon points="276.2,251.28 277.88,254.24 274.52,254.24" fill="#fff" stroke="#000" stroke-width="0.65" stroke-linejoin="round"/>
<circle cx="278.7" cy="254.03" r="1.36" fill="#fff" stroke="#000" stroke-width="0.65"/>
<polygon points="281.2,252.19 282.88,255.15 279.52,255.15" fill="#fff" stroke="#000" stroke-width="0.65" stroke-linejoin="round"/>
<polygon points="276.2,254.9 277.88,257.86 274.52,257.86" fill="#fff" stroke="#000" stroke-width="0.65" stroke-linejoin="round"/>
<polygon points="278.7,258.52 280.38,261.48 277.02,261.48" fill="#fff" stroke="#000" stroke-width="0.65" stroke-linejoin="round"/>
<polygon points="281.2,262.14 282.88,265.1 279.52,265.1" fill="#fff" stroke="#000" stroke-width="0.65" stroke-linejoin="round"/>
<polygon points="278.7,265.76 280.38,268.72 277.02,268.72" fill="#fff" stroke="#000" stroke-width="0.65" stroke-linejoin="round"/>
<polygon points="276.2,274.81 277.88,277.77 274.52,277.77" fill="#fff" stroke="#000" stroke-width="0.65" stroke-linejoin="round"/>
<polygon points="278.7,277.53 280.38,280.49 277.02,280.49" fill="#fff" stroke="#000" stroke-width="0.65" stroke-linejoin="round"/>
<polygon points="281.2,278.43 282.88,281.39 279.52,281.39" fill="#fff" stroke="#000" stroke-width="0.65" stroke-linejoin="round"/>
<polygon points="277.2,283.86 278.88,286.82 275.52,286.82" fill="#fff" stroke="#000" stroke-width="0.65" stroke-linejoin="round"/>
<polygon points="280.2,284.77 281.88,287.73 278.52,287.73" fill="#fff" stroke="#000" stroke-width="0.65" stroke-linejoin="round"/>
<polygon points="278.7,288.23 279.26,289.45 280.6,289.61 279.61,290.52 279.88,291.84 278.7,291.19 277.52,291.84 277.79,290.52 276.8,289.61 278.14,289.45" fill="#fff" stroke="#000" stroke-width="0.65" stroke-linejoin="round"/>
<path d="M117.5,287.9 V284.5 H132.5 V287.9" fill="none" stroke="#222" stroke-width="1"/>
<text x="124.8" y="282" text-anchor="middle" font-size="5.8" font-weight="normal" fill="#000" stroke="#000" stroke-width="0.1">ns</text>
<path d="M154.5,287.9 V284.5 H169.5 V287.9" fill="none" stroke="#222" stroke-width="1"/>
<text x="162.05" y="282" text-anchor="middle" font-size="5.8" font-weight="normal" fill="#000" stroke="#000" stroke-width="0.1">ns</text>
<path d="M228.5,287.9 V284.5 H242.5 V287.9" fill="none" stroke="#222" stroke-width="1"/>
<text x="235.5" y="282.1" text-anchor="middle" font-size="5.8" font-weight="normal" fill="#000" stroke="#000" stroke-width="0.1">ns</text>
<path d="M191.5,240.8 V228.5 H206.5 V230.5" fill="none" stroke="#222" stroke-width="1"/>
<rect x="196" y="224.7" width="5.9" height="1.3" fill="#555" stroke="none" stroke-width="0"/>
<path d="M265.5,214.5 V212.5 H279.5 V224.9" fill="none" stroke="#222" stroke-width="1"/>
<circle cx="270.6" cy="209.2" r="0.75" fill="#333"/>
<circle cx="272.6" cy="209.2" r="0.75" fill="#333"/>
<circle cx="274.6" cy="209.2" r="0.75" fill="#333"/>
<text x="125" y="312.4" text-anchor="middle" font-size="5.9" font-weight="normal" fill="#000" textLength="7.5" lengthAdjust="spacingAndGlyphs" stroke="#000" stroke-width="0.12">J&#947;1</text>
<text x="162" y="312.4" text-anchor="middle" font-size="5.9" font-weight="normal" fill="#000" textLength="11.5" lengthAdjust="spacingAndGlyphs" stroke="#000" stroke-width="0.12">J&#947;P1</text>
<text x="198.5" y="312.4" text-anchor="middle" font-size="5.9" font-weight="normal" fill="#000" textLength="7.5" lengthAdjust="spacingAndGlyphs" stroke="#000" stroke-width="0.12">J&#947;2</text>
<text x="235.5" y="312.4" text-anchor="middle" font-size="5.9" font-weight="normal" fill="#000" textLength="11.5" lengthAdjust="spacingAndGlyphs" stroke="#000" stroke-width="0.12">J&#947;P2</text>
<text x="272.5" y="312.4" text-anchor="middle" font-size="5.9" font-weight="normal" fill="#000" textLength="7.5" lengthAdjust="spacingAndGlyphs" stroke="#000" stroke-width="0.12">J&#947;P</text>
<text x="178.6" y="215.2" text-anchor="middle" font-size="6.2" font-weight="normal" fill="#000" textLength="18.8" lengthAdjust="spacingAndGlyphs" stroke="#000" stroke-width="0.12">Group 1</text>
<rect x="191.2" y="211.5" width="6.5" height="3" fill="#b90e2e" stroke="none" stroke-width="0"/>
<text x="216.3" y="215.2" text-anchor="middle" font-size="6.2" font-weight="normal" fill="#000" textLength="18.9" lengthAdjust="spacingAndGlyphs" stroke="#000" stroke-width="0.12">Group 2</text>
<rect x="228.8" y="211.5" width="6.6" height="3" fill="#2b5294" stroke="none" stroke-width="0"/>
<text transform="translate(85.5,257.1) rotate(-90)" text-anchor="middle" font-size="7.3" font-weight="normal" fill="#000" textLength="57.1" lengthAdjust="spacingAndGlyphs" stroke="#000" stroke-width="0.28">CDR3&#947; repertoire (%)</text>
<text x="297.4" y="191.1" text-anchor="start" font-size="11.8" font-weight="bold" fill="#000">H</text>
<line x1="321.2" y1="303.8" x2="431.8" y2="303.8" stroke="#000" stroke-width="1.3"/>
<line x1="323.9" y1="209" x2="323.9" y2="304.4" stroke="#000" stroke-width="1"/>
<line x1="321.2" y1="303.4" x2="323.9" y2="303.4" stroke="#000" stroke-width="1"/>
<text x="317.9" y="305.9" text-anchor="end" font-size="6.2" font-weight="normal" fill="#000" stroke="#000" stroke-width="0.12">0</text>
<line x1="321.2" y1="285.2" x2="323.9" y2="285.2" stroke="#000" stroke-width="1"/>
<text x="317.9" y="287.7" text-anchor="end" font-size="6.2" font-weight="normal" fill="#000" stroke="#000" stroke-width="0.12">10</text>
<line x1="321.2" y1="267" x2="323.9" y2="267" stroke="#000" stroke-width="1"/>
<text x="317.9" y="269.5" text-anchor="end" font-size="6.2" font-weight="normal" fill="#000" stroke="#000" stroke-width="0.12">20</text>
<line x1="321.2" y1="248.8" x2="323.9" y2="248.8" stroke="#000" stroke-width="1"/>
<text x="317.9" y="251.3" text-anchor="end" font-size="6.2" font-weight="normal" fill="#000" stroke="#000" stroke-width="0.12">30</text>
<line x1="321.2" y1="230.6" x2="323.9" y2="230.6" stroke="#000" stroke-width="1"/>
<text x="317.9" y="233.1" text-anchor="end" font-size="6.2" font-weight="normal" fill="#000" stroke="#000" stroke-width="0.12">40</text>
<line x1="321.2" y1="212.4" x2="323.9" y2="212.4" stroke="#000" stroke-width="1"/>
<text x="317.9" y="214.9" text-anchor="end" font-size="6.2" font-weight="normal" fill="#000" stroke="#000" stroke-width="0.12">50</text>
<line x1="329.5" y1="303.8" x2="329.5" y2="306.3" stroke="#000" stroke-width="0.8"/>
<text x="329.5" y="313.2" text-anchor="middle" font-size="6.2" font-weight="normal" fill="#000" stroke="#000" stroke-width="0.12">7</text>
<line x1="337.5" y1="303.8" x2="337.5" y2="306.3" stroke="#000" stroke-width="0.8"/>
<text x="337.59" y="313.2" text-anchor="middle" font-size="6.2" font-weight="normal" fill="#000" stroke="#000" stroke-width="0.12">8</text>
<line x1="345.5" y1="303.8" x2="345.5" y2="306.3" stroke="#000" stroke-width="0.8"/>
<text x="345.68" y="313.2" text-anchor="middle" font-size="6.2" font-weight="normal" fill="#000" stroke="#000" stroke-width="0.12">9</text>
<line x1="353.5" y1="303.8" x2="353.5" y2="306.3" stroke="#000" stroke-width="0.8"/>
<text x="353.77" y="313.2" text-anchor="middle" font-size="6.2" font-weight="normal" fill="#000" stroke="#000" stroke-width="0.12">10</text>
<line x1="361.5" y1="303.8" x2="361.5" y2="306.3" stroke="#000" stroke-width="0.8"/>
<text x="361.86" y="313.2" text-anchor="middle" font-size="6.2" font-weight="normal" fill="#000" stroke="#000" stroke-width="0.12">11</text>
<line x1="369.5" y1="303.8" x2="369.5" y2="306.3" stroke="#000" stroke-width="0.8"/>
<text x="369.95" y="313.2" text-anchor="middle" font-size="6.2" font-weight="normal" fill="#000" stroke="#000" stroke-width="0.12">12</text>
<line x1="378.5" y1="303.8" x2="378.5" y2="306.3" stroke="#000" stroke-width="0.8"/>
<text x="378.04" y="313.2" text-anchor="middle" font-size="6.2" font-weight="normal" fill="#000" stroke="#000" stroke-width="0.12">13</text>
<line x1="386.5" y1="303.8" x2="386.5" y2="306.3" stroke="#000" stroke-width="0.8"/>
<text x="386.13" y="313.2" text-anchor="middle" font-size="6.2" font-weight="normal" fill="#000" stroke="#000" stroke-width="0.12">14</text>
<line x1="394.5" y1="303.8" x2="394.5" y2="306.3" stroke="#000" stroke-width="0.8"/>
<text x="394.22" y="313.2" text-anchor="middle" font-size="6.2" font-weight="normal" fill="#000" stroke="#000" stroke-width="0.12">15</text>
<line x1="402.5" y1="303.8" x2="402.5" y2="306.3" stroke="#000" stroke-width="0.8"/>
<text x="402.31" y="313.2" text-anchor="middle" font-size="6.2" font-weight="normal" fill="#000" stroke="#000" stroke-width="0.12">16</text>
<line x1="410.5" y1="303.8" x2="410.5" y2="306.3" stroke="#000" stroke-width="0.8"/>
<text x="410.4" y="313.2" text-anchor="middle" font-size="6.2" font-weight="normal" fill="#000" stroke="#000" stroke-width="0.12">17</text>
<line x1="418.5" y1="303.8" x2="418.5" y2="306.3" stroke="#000" stroke-width="0.8"/>
<text x="418.49" y="313.2" text-anchor="middle" font-size="6.2" font-weight="normal" fill="#000" stroke="#000" stroke-width="0.12">18</text>
<line x1="426.5" y1="303.8" x2="426.5" y2="306.3" stroke="#000" stroke-width="0.8"/>
<text x="426.58" y="313.2" text-anchor="middle" font-size="6.2" font-weight="normal" fill="#000" stroke="#000" stroke-width="0.12">19</text>
<polyline points="329.5,302.85 337.59,302.49 345.68,297.03 353.77,295.57 361.86,282.47 369.95,285.2 378.04,279.74 386.13,251.53 394.22,278.83 402.31,292.48 410.4,294.3 418.49,302.85 426.58,300.67" fill="none" stroke="#000" stroke-width="1"/>
<line x1="345.5" y1="295.57" x2="345.5" y2="298.49" stroke="#000" stroke-width="0.8"/>
<line x1="344.08" y1="295.5" x2="347.28" y2="295.5" stroke="#000" stroke-width="0.8"/>
<line x1="344.08" y1="298.5" x2="347.28" y2="298.5" stroke="#000" stroke-width="0.8"/>
<line x1="353.5" y1="293.75" x2="353.5" y2="297.39" stroke="#000" stroke-width="0.8"/>
<line x1="352.17" y1="293.5" x2="355.37" y2="293.5" stroke="#000" stroke-width="0.8"/>
<line x1="352.17" y1="297.5" x2="355.37" y2="297.5" stroke="#000" stroke-width="0.8"/>
<line x1="361.5" y1="279.74" x2="361.5" y2="285.2" stroke="#000" stroke-width="0.8"/>
<line x1="360.26" y1="279.5" x2="363.46" y2="279.5" stroke="#000" stroke-width="0.8"/>
<line x1="360.26" y1="285.5" x2="363.46" y2="285.5" stroke="#000" stroke-width="0.8"/>
<line x1="369.5" y1="283.38" x2="369.5" y2="287.02" stroke="#000" stroke-width="0.8"/>
<line x1="368.35" y1="283.5" x2="371.55" y2="283.5" stroke="#000" stroke-width="0.8"/>
<line x1="368.35" y1="287.5" x2="371.55" y2="287.5" stroke="#000" stroke-width="0.8"/>
<line x1="378.5" y1="276.1" x2="378.5" y2="283.38" stroke="#000" stroke-width="0.8"/>
<line x1="376.44" y1="276.5" x2="379.64" y2="276.5" stroke="#000" stroke-width="0.8"/>
<line x1="376.44" y1="283.5" x2="379.64" y2="283.5" stroke="#000" stroke-width="0.8"/>
<line x1="386.5" y1="246.07" x2="386.5" y2="256.99" stroke="#000" stroke-width="0.8"/>
<line x1="384.53" y1="246.5" x2="387.73" y2="246.5" stroke="#000" stroke-width="0.8"/>
<line x1="384.53" y1="256.5" x2="387.73" y2="256.5" stroke="#000" stroke-width="0.8"/>
<line x1="394.5" y1="276.46" x2="394.5" y2="281.2" stroke="#000" stroke-width="0.8"/>
<line x1="392.62" y1="276.5" x2="395.82" y2="276.5" stroke="#000" stroke-width="0.8"/>
<line x1="392.62" y1="281.5" x2="395.82" y2="281.5" stroke="#000" stroke-width="0.8"/>
<line x1="402.5" y1="290.66" x2="402.5" y2="294.3" stroke="#000" stroke-width="0.8"/>
<line x1="400.71" y1="290.5" x2="403.91" y2="290.5" stroke="#000" stroke-width="0.8"/>
<line x1="400.71" y1="294.5" x2="403.91" y2="294.5" stroke="#000" stroke-width="0.8"/>
<line x1="410.5" y1="290.66" x2="410.5" y2="297.94" stroke="#000" stroke-width="0.8"/>
<line x1="408.8" y1="290.5" x2="412" y2="290.5" stroke="#000" stroke-width="0.8"/>
<line x1="408.8" y1="297.5" x2="412" y2="297.5" stroke="#000" stroke-width="0.8"/>
<line x1="426.5" y1="298.85" x2="426.5" y2="302.49" stroke="#000" stroke-width="0.8"/>
<line x1="424.98" y1="298.5" x2="428.18" y2="298.5" stroke="#000" stroke-width="0.8"/>
<line x1="424.98" y1="302.5" x2="428.18" y2="302.5" stroke="#000" stroke-width="0.8"/>
<polyline points="329.5,302.31 337.59,300.67 345.68,287.93 353.77,279.74 361.86,277.92 369.95,281.56 378.04,276.1 386.13,272.46 394.22,284.29 402.31,296.12 410.4,299.76 418.49,302.85 426.58,301.94" fill="none" stroke="#000" stroke-width="1"/>
<line x1="345.5" y1="286.11" x2="345.5" y2="289.75" stroke="#000" stroke-width="0.8"/>
<line x1="344.08" y1="286.5" x2="347.28" y2="286.5" stroke="#000" stroke-width="0.8"/>
<line x1="344.08" y1="289.5" x2="347.28" y2="289.5" stroke="#000" stroke-width="0.8"/>
<line x1="353.5" y1="273.37" x2="353.5" y2="286.11" stroke="#000" stroke-width="0.8"/>
<line x1="352.17" y1="273.5" x2="355.37" y2="273.5" stroke="#000" stroke-width="0.8"/>
<line x1="352.17" y1="286.5" x2="355.37" y2="286.5" stroke="#000" stroke-width="0.8"/>
<line x1="361.5" y1="275.19" x2="361.5" y2="280.65" stroke="#000" stroke-width="0.8"/>
<line x1="360.26" y1="275.5" x2="363.46" y2="275.5" stroke="#000" stroke-width="0.8"/>
<line x1="360.26" y1="280.5" x2="363.46" y2="280.5" stroke="#000" stroke-width="0.8"/>
<line x1="369.5" y1="278.83" x2="369.5" y2="284.29" stroke="#000" stroke-width="0.8"/>
<line x1="368.35" y1="278.5" x2="371.55" y2="278.5" stroke="#000" stroke-width="0.8"/>
<line x1="368.35" y1="284.5" x2="371.55" y2="284.5" stroke="#000" stroke-width="0.8"/>
<line x1="378.5" y1="273.37" x2="378.5" y2="278.83" stroke="#000" stroke-width="0.8"/>
<line x1="376.44" y1="273.5" x2="379.64" y2="273.5" stroke="#000" stroke-width="0.8"/>
<line x1="376.44" y1="278.5" x2="379.64" y2="278.5" stroke="#000" stroke-width="0.8"/>
<line x1="386.5" y1="268.82" x2="386.5" y2="276.1" stroke="#000" stroke-width="0.8"/>
<line x1="384.53" y1="268.5" x2="387.73" y2="268.5" stroke="#000" stroke-width="0.8"/>
<line x1="384.53" y1="276.5" x2="387.73" y2="276.5" stroke="#000" stroke-width="0.8"/>
<line x1="394.5" y1="281.92" x2="394.5" y2="286.66" stroke="#000" stroke-width="0.8"/>
<line x1="392.62" y1="281.5" x2="395.82" y2="281.5" stroke="#000" stroke-width="0.8"/>
<line x1="392.62" y1="286.5" x2="395.82" y2="286.5" stroke="#000" stroke-width="0.8"/>
<line x1="402.5" y1="294.3" x2="402.5" y2="297.94" stroke="#000" stroke-width="0.8"/>
<line x1="400.71" y1="294.5" x2="403.91" y2="294.5" stroke="#000" stroke-width="0.8"/>
<line x1="400.71" y1="297.5" x2="403.91" y2="297.5" stroke="#000" stroke-width="0.8"/>
<line x1="410.5" y1="297.94" x2="410.5" y2="301.58" stroke="#000" stroke-width="0.8"/>
<line x1="408.8" y1="297.5" x2="412" y2="297.5" stroke="#000" stroke-width="0.8"/>
<line x1="408.8" y1="301.5" x2="412" y2="301.5" stroke="#000" stroke-width="0.8"/>
<circle cx="329.5" cy="302.85" r="1.57" fill="#b90e2e" stroke="#000" stroke-width="0.75"/>
<circle cx="337.59" cy="302.49" r="1.57" fill="#b90e2e" stroke="#000" stroke-width="0.75"/>
<circle cx="345.68" cy="297.03" r="1.57" fill="#b90e2e" stroke="#000" stroke-width="0.75"/>
<circle cx="353.77" cy="295.57" r="1.57" fill="#b90e2e" stroke="#000" stroke-width="0.75"/>
<circle cx="361.86" cy="282.47" r="1.57" fill="#b90e2e" stroke="#000" stroke-width="0.75"/>
<circle cx="369.95" cy="285.2" r="1.57" fill="#b90e2e" stroke="#000" stroke-width="0.75"/>
<circle cx="378.04" cy="279.74" r="1.57" fill="#b90e2e" stroke="#000" stroke-width="0.75"/>
<circle cx="386.13" cy="251.53" r="1.57" fill="#b90e2e" stroke="#000" stroke-width="0.75"/>
<circle cx="394.22" cy="278.83" r="1.57" fill="#b90e2e" stroke="#000" stroke-width="0.75"/>
<circle cx="402.31" cy="292.48" r="1.57" fill="#b90e2e" stroke="#000" stroke-width="0.75"/>
<circle cx="410.4" cy="294.3" r="1.57" fill="#b90e2e" stroke="#000" stroke-width="0.75"/>
<circle cx="418.49" cy="302.85" r="1.57" fill="#b90e2e" stroke="#000" stroke-width="0.75"/>
<circle cx="426.58" cy="300.67" r="1.57" fill="#b90e2e" stroke="#000" stroke-width="0.75"/>
<polygon points="329.5,300.66 331,302.31 329.5,303.96 328,302.31" fill="#2b5294" stroke="#000" stroke-width="0.75"/>
<polygon points="337.59,299.02 339.09,300.67 337.59,302.32 336.09,300.67" fill="#2b5294" stroke="#000" stroke-width="0.75"/>
<polygon points="345.68,286.28 347.18,287.93 345.68,289.58 344.18,287.93" fill="#2b5294" stroke="#000" stroke-width="0.75"/>
<polygon points="353.77,278.09 355.27,279.74 353.77,281.39 352.27,279.74" fill="#2b5294" stroke="#000" stroke-width="0.75"/>
<polygon points="361.86,276.27 363.36,277.92 361.86,279.57 360.36,277.92" fill="#2b5294" stroke="#000" stroke-width="0.75"/>
<polygon points="369.95,279.91 371.45,281.56 369.95,283.21 368.45,281.56" fill="#2b5294" stroke="#000" stroke-width="0.75"/>
<polygon points="378.04,274.45 379.54,276.1 378.04,277.75 376.54,276.1" fill="#2b5294" stroke="#000" stroke-width="0.75"/>
<polygon points="386.13,270.81 387.63,272.46 386.13,274.11 384.63,272.46" fill="#2b5294" stroke="#000" stroke-width="0.75"/>
<polygon points="394.22,282.64 395.72,284.29 394.22,285.94 392.72,284.29" fill="#2b5294" stroke="#000" stroke-width="0.75"/>
<polygon points="402.31,294.47 403.81,296.12 402.31,297.77 400.81,296.12" fill="#2b5294" stroke="#000" stroke-width="0.75"/>
<polygon points="410.4,298.11 411.9,299.76 410.4,301.41 408.9,299.76" fill="#2b5294" stroke="#000" stroke-width="0.75"/>
<polygon points="418.49,301.2 419.99,302.85 418.49,304.5 416.99,302.85" fill="#2b5294" stroke="#000" stroke-width="0.75"/>
<polygon points="426.58,300.29 428.08,301.94 426.58,303.59 425.08,301.94" fill="#2b5294" stroke="#000" stroke-width="0.75"/>
<text x="353.77" y="272.9" text-anchor="middle" font-size="6" font-weight="normal" fill="#000" stroke="#000" stroke-width="0.12">*</text>
<text x="386.13" y="245.9" text-anchor="middle" font-size="6" font-weight="normal" fill="#000" stroke="#000" stroke-width="0.12">**</text>
<text x="353.7" y="214" text-anchor="middle" font-size="6.2" font-weight="normal" fill="#000" textLength="21.8" lengthAdjust="spacingAndGlyphs" stroke="#000" stroke-width="0.12">Group 1</text>
<circle cx="370.8" cy="211.9" r="2.04" fill="#b90e2e" stroke="#000" stroke-width="0.8"/>
<text x="393.5" y="214" text-anchor="middle" font-size="6.2" font-weight="normal" fill="#000" textLength="22.3" lengthAdjust="spacingAndGlyphs" stroke="#000" stroke-width="0.12">Group 2</text>
<polygon points="411.1,209.37 413.4,211.9 411.1,214.43 408.8,211.9" fill="#2b5294" stroke="#000" stroke-width="0.8"/>
<text transform="translate(304.5,258.5) rotate(-90)" text-anchor="middle" font-size="7.3" font-weight="normal" fill="#000" textLength="54.4" lengthAdjust="spacingAndGlyphs" stroke="#000" stroke-width="0.28">CDR3&#947; repertoire (%)</text>
<text x="378" y="329.8" text-anchor="middle" font-size="8.4" font-weight="normal" fill="#000" textLength="72.4" lengthAdjust="spacingAndGlyphs" stroke="#000" stroke-width="0.3">Position in CDR3&#947; sequence</text>
<text x="441.4" y="191.1" text-anchor="start" font-size="11.8" font-weight="bold" fill="#000">I</text>
<line x1="478" y1="303.8" x2="512.5" y2="303.8" stroke="#000" stroke-width="1.3"/>
<line x1="481.4" y1="210.2" x2="481.4" y2="304.4" stroke="#000" stroke-width="1"/>
<line x1="478.7" y1="303.8" x2="481.4" y2="303.8" stroke="#000" stroke-width="1"/>
<text x="475.4" y="306.3" text-anchor="end" font-size="6.2" font-weight="normal" fill="#000" stroke="#000" stroke-width="0.12">0</text>
<line x1="478.7" y1="285.7" x2="481.4" y2="285.7" stroke="#000" stroke-width="1"/>
<text x="475.4" y="288.2" text-anchor="end" font-size="6.2" font-weight="normal" fill="#000" stroke="#000" stroke-width="0.12">20</text>
<line x1="478.7" y1="267.6" x2="481.4" y2="267.6" stroke="#000" stroke-width="1"/>
<text x="475.4" y="270.1" text-anchor="end" font-size="6.2" font-weight="normal" fill="#000" stroke="#000" stroke-width="0.12">40</text>
<line x1="478.7" y1="249.5" x2="481.4" y2="249.5" stroke="#000" stroke-width="1"/>
<text x="475.4" y="252" text-anchor="end" font-size="6.2" font-weight="normal" fill="#000" stroke="#000" stroke-width="0.12">60</text>
<line x1="478.7" y1="231.4" x2="481.4" y2="231.4" stroke="#000" stroke-width="1"/>
<text x="475.4" y="233.9" text-anchor="end" font-size="6.2" font-weight="normal" fill="#000" stroke="#000" stroke-width="0.12">80</text>
<line x1="478.7" y1="213.3" x2="481.4" y2="213.3" stroke="#000" stroke-width="1"/>
<text x="475.4" y="215.8" text-anchor="end" font-size="6.2" font-weight="normal" fill="#000" stroke="#000" stroke-width="0.12">100</text>
<line x1="490.5" y1="230.5" x2="490.5" y2="303.8" stroke="#333" stroke-width="0.85"/>
<rect x="485.8" y="244.07" width="9.4" height="34.39" fill="#b90e2e" stroke="none" stroke-width="0"/>
<line x1="485.8" y1="258.5" x2="495.2" y2="258.5" stroke="#000" stroke-width="1.1"/>
<polygon points="490.5,228.5 491.06,229.72 492.4,229.88 491.41,230.79 491.68,232.11 490.5,231.46 489.32,232.11 489.59,230.79 488.6,229.88 489.94,229.72" fill="#fff" stroke="#000" stroke-width="0.65" stroke-linejoin="round"/>
<polygon points="488,240.42 489.68,243.38 486.32,243.38" fill="#fff" stroke="#000" stroke-width="0.65" stroke-linejoin="round"/>
<polygon points="493,241.33 494.68,244.29 491.32,244.29" fill="#fff" stroke="#000" stroke-width="0.65" stroke-linejoin="round"/>
<polygon points="490.5,245.85 492.18,248.81 488.82,248.81" fill="#fff" stroke="#000" stroke-width="0.65" stroke-linejoin="round"/>
<polygon points="488,258.52 489.68,261.48 486.32,261.48" fill="#fff" stroke="#000" stroke-width="0.65" stroke-linejoin="round"/>
<polygon points="493,259.43 494.68,262.38 491.32,262.38" fill="#fff" stroke="#000" stroke-width="0.65" stroke-linejoin="round"/>
<polygon points="490.5,267.57 492.18,270.53 488.82,270.53" fill="#fff" stroke="#000" stroke-width="0.65" stroke-linejoin="round"/>
<polygon points="490.5,280.24 492.18,283.2 488.82,283.2" fill="#fff" stroke="#000" stroke-width="0.65" stroke-linejoin="round"/>
<polygon points="490.5,293.82 492.18,296.78 488.82,296.78" fill="#fff" stroke="#000" stroke-width="0.65" stroke-linejoin="round"/>
<polygon points="490.5,302.04 492.1,303.8 490.5,305.56 488.9,303.8" fill="#fff" stroke="#000" stroke-width="0.65"/>
<line x1="504.2" y1="218.73" x2="504.2" y2="290.23" stroke="#333" stroke-width="0.85"/>
<rect x="499.5" y="223.25" width="9.4" height="39.82" fill="#2b5294" stroke="none" stroke-width="0"/>
<line x1="499.5" y1="249.5" x2="508.9" y2="249.5" stroke="#000" stroke-width="1.1"/>
<polygon points="501.7,217.88 503.3,219.63 501.7,221.39 500.1,219.63" fill="#fff" stroke="#000" stroke-width="0.65"/>
<circle cx="504.2" cy="218.73" r="1.36" fill="#fff" stroke="#000" stroke-width="0.65"/>
<polygon points="506.7,218.78 508.3,220.54 506.7,222.3 505.1,220.54" fill="#fff" stroke="#000" stroke-width="0.65"/>
<polygon points="501.7,222.32 503.38,225.28 500.02,225.28" fill="#fff" stroke="#000" stroke-width="0.65" stroke-linejoin="round"/>
<polygon points="506.7,223.22 508.38,226.19 505.02,226.19" fill="#fff" stroke="#000" stroke-width="0.65" stroke-linejoin="round"/>
<polygon points="501.7,245.85 503.38,248.81 500.02,248.81" fill="#fff" stroke="#000" stroke-width="0.65" stroke-linejoin="round"/>
<polygon points="506.7,247.66 508.38,250.62 505.02,250.62" fill="#fff" stroke="#000" stroke-width="0.65" stroke-linejoin="round"/>
<polygon points="502.2,249.47 503.88,252.43 500.52,252.43" fill="#fff" stroke="#000" stroke-width="0.65" stroke-linejoin="round"/>
<polygon points="504.2,259.43 505.88,262.38 502.52,262.38" fill="#fff" stroke="#000" stroke-width="0.65" stroke-linejoin="round"/>
<polygon points="504.2,272.1 505.88,275.06 502.52,275.06" fill="#fff" stroke="#000" stroke-width="0.65" stroke-linejoin="round"/>
<rect x="502.92" y="288.95" width="2.56" height="2.56" fill="#fff" stroke="#000" stroke-width="0.65"/>
<line x1="490.5" y1="303.8" x2="490.5" y2="306.4" stroke="#000" stroke-width="0.8"/>
<line x1="504.5" y1="303.8" x2="504.5" y2="306.4" stroke="#000" stroke-width="0.8"/>
<text x="490.2" y="315.5" text-anchor="middle" font-size="6.8" font-weight="normal" fill="#000" stroke="#000" stroke-width="0.12">G1</text>
<text x="504" y="315.5" text-anchor="middle" font-size="6.8" font-weight="normal" fill="#000" stroke="#000" stroke-width="0.12">G2</text>
<text transform="translate(448.4,256.7) rotate(-90)" text-anchor="middle" font-size="7.3" font-weight="normal" fill="#000" textLength="74" lengthAdjust="spacingAndGlyphs" stroke="#000" stroke-width="0.28">Proportion of CDR3 J&#947;2-V&#947;9</text>
<text transform="translate(458,257.5) rotate(-90)" text-anchor="middle" font-size="7.3" font-weight="normal" fill="#000" textLength="57.8" lengthAdjust="spacingAndGlyphs" stroke="#000" stroke-width="0.28">among CDR3 J&#947;2 (%)</text>
<rect x="0.5" y="0.5" width="519" height="338" fill="none" stroke="#000" stroke-width="1"/>
</svg></body></html>
